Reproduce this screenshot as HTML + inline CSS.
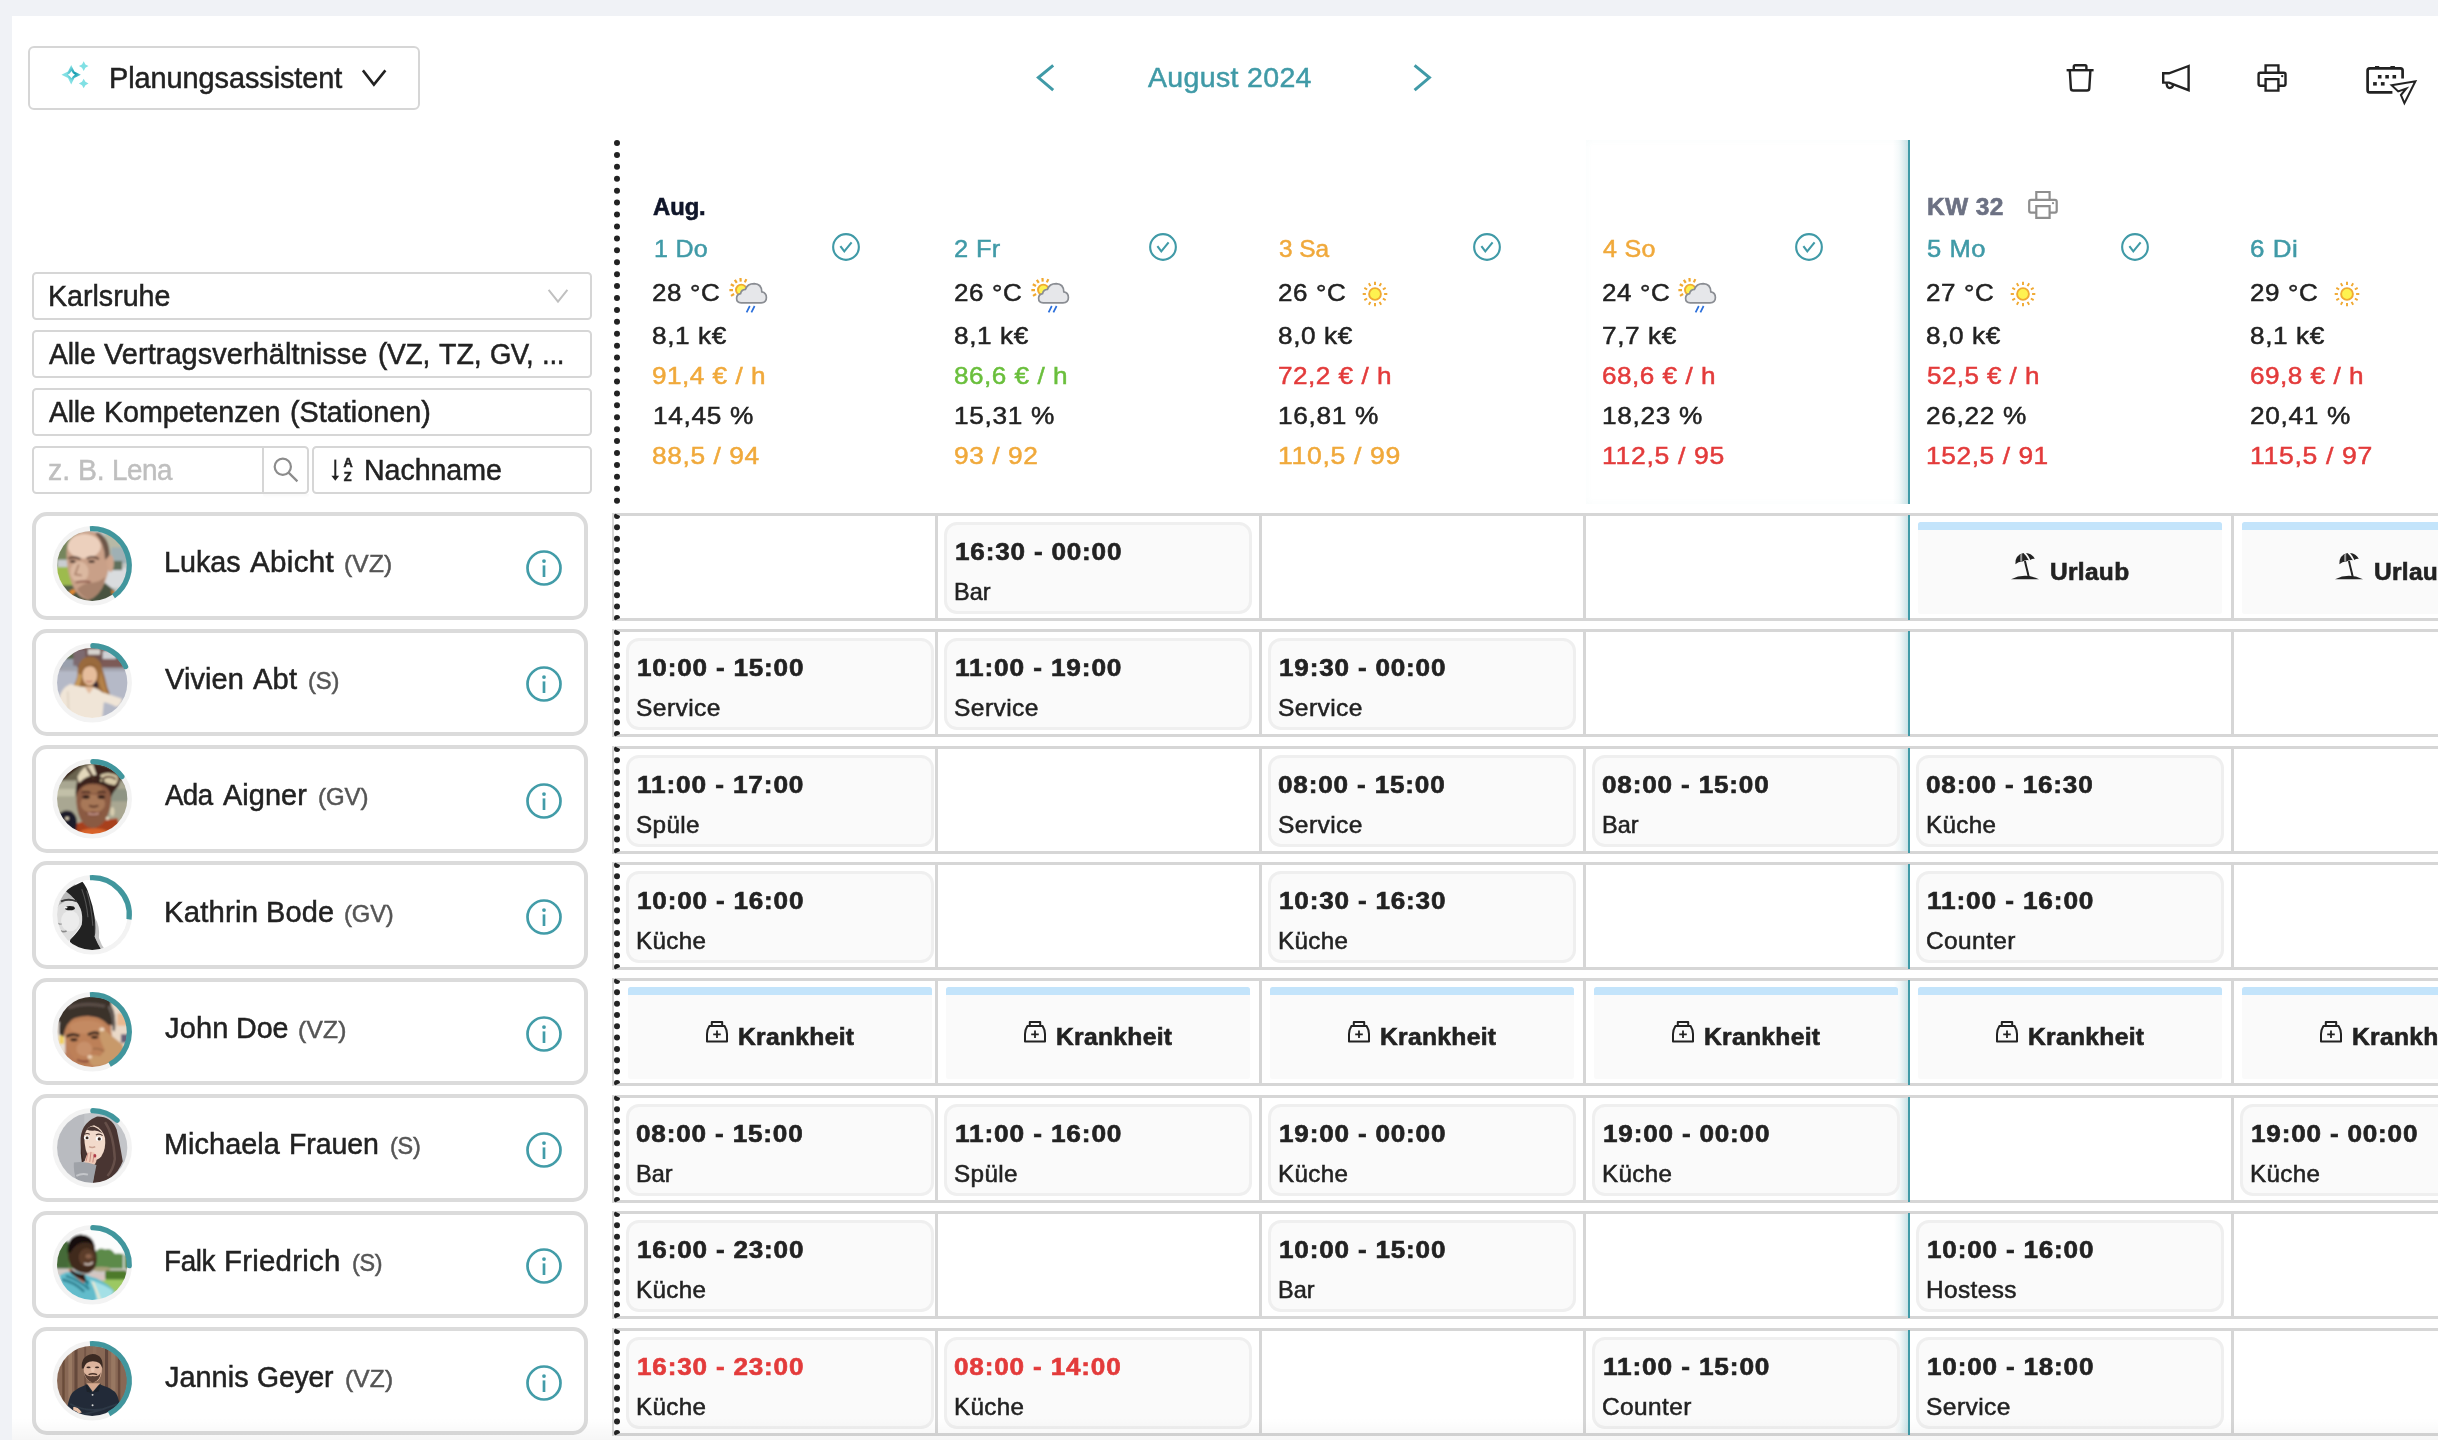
<!DOCTYPE html>
<html lang="de"><head><meta charset="utf-8"><title>Dienstplan</title>
<style>
html,body{margin:0;padding:0;overflow:hidden;}
body{width:2438px;height:1440px;overflow:hidden;background:#f0f2f6;font-family:"Liberation Sans",sans-serif;position:relative;}
.b{position:absolute;box-sizing:border-box;display:block;}
.t{position:absolute;white-space:nowrap;font-family:"Liberation Sans",sans-serif;}
#w{position:absolute;left:0;top:0;width:2438px;height:1440px;overflow:hidden;will-change:transform;}
#panel{position:absolute;left:12px;top:16px;width:2426px;height:1424px;background:#fff;}
</style></head><body>
<div id="w">
<div id="panel"></div>
<div class="b" style="left:28.00px;top:46.00px;width:392.00px;height:64.00px;border:2px solid #d6d6d6;border-radius:6px;background:#fff;"></div>
<svg class="b" style="left:58.00px;top:60.00px;" width="32.00" height="30.00" viewBox="58 60 32 30"><defs><radialGradient id="spg" gradientUnits="userSpaceOnUse" cx="74.6" cy="73.4" r="8"><stop offset="0" stop-color="#0f9aae"/><stop offset="0.45" stop-color="#3db4c2"/><stop offset="1" stop-color="#82e0e4"/></radialGradient></defs><path d="M71.20,65.00 L74.42,71.48 L80.90,74.70 L74.42,77.92 L71.20,84.40 L67.98,77.92 L61.50,74.70 L67.98,71.48Z" fill="url(#spg)"/><path d="M71.40,71.10 L72.93,73.17 L75.00,74.70 L72.93,76.23 L71.40,78.30 L69.87,76.23 L67.80,74.70 L69.87,73.17Z" fill="#fff"/><path d="M83.70,61.30 L85.40,64.40 L88.50,66.10 L85.40,67.80 L83.70,70.90 L82.00,67.80 L78.90,66.10 L82.00,64.40Z" fill="#80e0e4"/><path d="M83.70,78.70 L85.40,81.80 L88.50,83.50 L85.40,85.20 L83.70,88.30 L82.00,85.20 L78.90,83.50 L82.00,81.80Z" fill="#80e0e4"/></svg>
<div class="t" style="left:109.46px;top:63.55px;font-size:29.0px;line-height:29.0px;color:#222;font-weight:400;letter-spacing:-0.051px;transform:scaleX(0.9948);transform-origin:0 0;-webkit-text-stroke:0.5px #222;">Planungsassistent</div>
<svg class="b" style="left:358.00px;top:66.00px;" width="32.00" height="24.00" viewBox="358 66 32 24"><path d="M362.9 70.4 L373.9 84.6 L385.4 70.4" fill="none" stroke="#222" stroke-width="2.6"/></svg>
<svg class="b" style="left:1030.00px;top:60.00px;" width="30.00" height="36.00" viewBox="1030 60 30 36"><path d="M1053.2 65.4 L1038.4 77.6 L1053.2 90.2" fill="none" stroke="#409aa7" stroke-width="3"/></svg>
<div class="t" style="left:1148.25px;top:64.04px;font-size:27.6px;line-height:27.6px;color:#409aa7;font-weight:400;letter-spacing:0.329px;transform:scaleX(1.0329);transform-origin:0 0;-webkit-text-stroke:0.5px #409aa7;">August 2024</div>
<svg class="b" style="left:1408.00px;top:60.00px;" width="30.00" height="36.00" viewBox="1408 60 30 36"><path d="M1414.6 65.4 L1429.4 77.6 L1414.6 90.2" fill="none" stroke="#409aa7" stroke-width="3"/></svg>
<svg class="b" style="left:2060.00px;top:58.00px;" width="40.00" height="40.00" viewBox="2060 58 40 40"><g fill="none" stroke="#222" stroke-width="2.4" stroke-linejoin="round"><path d="M2066.6 70.2 H2093.6"/><path d="M2073.8 70 V66.6 Q2073.8 65.3 2075.1 65.3 H2085.1 Q2086.4 65.3 2086.4 66.6 V70"/><path d="M2069.8 70.4 L2070.9 88.4 Q2071 90.5 2073.2 90.5 H2087 Q2089.2 90.5 2089.3 88.4 L2090.4 70.4"/></g></svg>
<svg class="b" style="left:2155.00px;top:58.00px;" width="42.00" height="40.00" viewBox="2155 58 42 40"><g fill="none" stroke="#222" stroke-width="2.4" stroke-linejoin="miter"><path d="M2188.6 66.0 L2169 73.3 H2163.2 V82.6 H2169 L2188.6 90.2 Z"/><path d="M2166.6 83.2 Q2166.9 88 2169.8 88 Q2172.6 88 2173.2 84.6"/></g></svg>
<svg class="b" style="left:2250.00px;top:58.00px;" width="44.00" height="40.00" viewBox="2250 58 44 40"><g fill="none" stroke="#222" stroke-width="2.4" stroke-linejoin="round"><path d="M2265.6 72 V65.4 H2278.4 V72" stroke-linejoin="miter"/><path d="M2265.6 85.7 H2260.2 Q2258.6 85.7 2258.6 84.1 V74.4 Q2258.6 72.8 2260.2 72.8 H2283.9 Q2285.5 72.8 2285.5 74.4 V84.1 Q2285.5 85.7 2283.9 85.7 H2278.4"/><path d="M2265.6 79.1 H2278.4 V90.6 H2265.6 Z" stroke-linejoin="miter"/></g><circle cx="2282.2" cy="76.1" r="1.2" fill="#222"/></svg>
<svg class="b" style="left:2360.00px;top:60.00px;" width="64.00" height="50.00" viewBox="2360 60 64 50"><g fill="none" stroke="#222" stroke-width="2.7"><path d="M2402.6 78.4 V70.6 Q2402.6 68.4 2400.4 68.4 H2369.8 Q2367.6 68.4 2367.6 70.6 V90.2 Q2367.6 92.4 2369.8 92.4 H2392.4"/></g><g fill="#222"><rect x="2375" y="66" width="4.2" height="2"/><rect x="2390.4" y="66" width="4.5" height="2"/><rect x="2377.9" y="75" width="3.6" height="3.5"/><rect x="2385.3" y="75" width="3.6" height="3.5"/><rect x="2392.5" y="75" width="3.6" height="3.5"/><rect x="2373.1" y="82.1" width="3.7" height="3.5"/><rect x="2380.9" y="82.1" width="3.7" height="3.5"/></g><path d="M2391.6 85.2 L2415.4 81.2 L2404.4 103.2 L2400.9 95 L2406.2 88.6 L2398.2 91.4 Z" fill="none" stroke="#222" stroke-width="2" stroke-linejoin="miter"/></svg>
<div class="b" style="left:32.00px;top:272.00px;width:560.00px;height:48.00px;border:2px solid #d6d6d6;border-radius:4.5px;background:#fff;"></div>
<div class="b" style="left:32.00px;top:330.00px;width:560.00px;height:48.00px;border:2px solid #d6d6d6;border-radius:4.5px;background:#fff;"></div>
<div class="b" style="left:32.00px;top:388.00px;width:560.00px;height:48.00px;border:2px solid #d6d6d6;border-radius:4.5px;background:#fff;"></div>
<div class="b" style="left:32.00px;top:446.00px;width:277.00px;height:48.00px;border:2px solid #d6d6d6;border-radius:4.5px;background:#fff;"></div>
<div class="b" style="left:261.60px;top:447.00px;width:2.00px;height:46.00px;background:#d6d6d6;"></div>
<div class="b" style="left:312.00px;top:446.00px;width:280.00px;height:48.00px;border:2px solid #d6d6d6;border-radius:4.5px;background:#fff;"></div>
<div class="t" style="left:48.05px;top:282.21px;font-size:28.7px;line-height:28.7px;color:#222;font-weight:400;letter-spacing:-0.016px;transform:scaleX(0.9984);transform-origin:0 0;-webkit-text-stroke:0.5px #222;">Karlsruhe</div>
<div class="t" style="left:48.85px;top:340.31px;font-size:28.7px;line-height:28.7px;color:#222;font-weight:400;letter-spacing:-0.146px;transform:scaleX(0.9862);transform-origin:0 0;-webkit-text-stroke:0.5px #222;">Alle</div>
<div class="t" style="left:104.35px;top:340.31px;font-size:28.7px;line-height:28.7px;color:#222;font-weight:400;letter-spacing:0.074px;transform:scaleX(1.0082);transform-origin:0 0;-webkit-text-stroke:0.5px #222;">Vertragsverhältnisse</div>
<div class="t" style="left:377.87px;top:340.31px;font-size:28.7px;line-height:28.7px;color:#222;font-weight:400;letter-spacing:-0.247px;transform:scaleX(0.9788);transform-origin:0 0;-webkit-text-stroke:0.5px #222;">(VZ,</div>
<div class="t" style="left:439.15px;top:340.31px;font-size:28.7px;line-height:28.7px;color:#222;font-weight:400;letter-spacing:-0.05px;transform:scaleX(0.9964);transform-origin:0 0;-webkit-text-stroke:0.5px #222;">TZ,</div>
<div class="t" style="left:490.39px;top:340.31px;font-size:28.7px;line-height:28.7px;color:#222;font-weight:400;letter-spacing:-0.607px;transform:scaleX(0.9601);transform-origin:0 0;-webkit-text-stroke:0.5px #222;">GV,</div>
<div class="t" style="left:541.72px;top:340.31px;font-size:28.7px;line-height:28.7px;color:#222;font-weight:400;letter-spacing:-0.258px;transform:scaleX(0.9627);transform-origin:0 0;-webkit-text-stroke:0.5px #222;">...</div>
<div class="t" style="left:48.75px;top:398.21px;font-size:28.7px;line-height:28.7px;color:#222;font-weight:400;letter-spacing:-0.174px;transform:scaleX(0.9836);transform-origin:0 0;-webkit-text-stroke:0.5px #222;">Alle</div>
<div class="t" style="left:103.55px;top:398.21px;font-size:28.7px;line-height:28.7px;color:#222;font-weight:400;letter-spacing:-0.027px;transform:scaleX(0.9977);transform-origin:0 0;-webkit-text-stroke:0.5px #222;">Kompetenzen</div>
<div class="t" style="left:290.25px;top:398.21px;font-size:28.7px;line-height:28.7px;color:#222;font-weight:400;letter-spacing:0.017px;transform:scaleX(1.0019);transform-origin:0 0;-webkit-text-stroke:0.5px #222;">(Stationen)</div>
<div class="t" style="left:48.16px;top:456.11px;font-size:28.7px;line-height:28.7px;color:#bfbfbf;font-weight:400;letter-spacing:-0.098px;transform:scaleX(0.9924);transform-origin:0 0;-webkit-text-stroke:0.5px #bfbfbf;">z.</div>
<div class="t" style="left:77.67px;top:456.11px;font-size:28.7px;line-height:28.7px;color:#bfbfbf;font-weight:400;letter-spacing:-0.176px;transform:scaleX(0.9887);transform-origin:0 0;-webkit-text-stroke:0.5px #bfbfbf;">B.</div>
<div class="t" style="left:112.11px;top:456.11px;font-size:28.7px;line-height:28.7px;color:#bfbfbf;font-weight:400;letter-spacing:-0.449px;transform:scaleX(0.9683);transform-origin:0 0;-webkit-text-stroke:0.5px #bfbfbf;">Lena</div>
<div class="t" style="left:363.56px;top:456.11px;font-size:28.7px;line-height:28.7px;color:#222;font-weight:400;letter-spacing:-0.05px;transform:scaleX(0.9961);transform-origin:0 0;-webkit-text-stroke:0.5px #222;">Nachname</div>
<div class="b" style="left:263.00px;top:494.00px;width:46.00px;height:4.00px;background:linear-gradient(to bottom, rgba(0,0,0,0.025), rgba(0,0,0,0));border-radius:0 0 4px 4px;"></div>
<svg class="b" style="left:540.00px;top:284.00px;" width="36.00" height="24.00" viewBox="540 284 36 24"><path d="M548.6 289.9 L558 301.6 L567.4 289.9" fill="none" stroke="#c0c0c0" stroke-width="2"/></svg>
<svg class="b" style="left:268.00px;top:452.00px;" width="36.00" height="36.00" viewBox="268 452 36 36"><g fill="none" stroke="#8c8c8c" stroke-width="2.2"><circle cx="282.8" cy="466.8" r="8.1"/><path d="M288.6 472.6 L297.4 481.4"/></g></svg>
<svg class="b" style="left:326.00px;top:454.00px;" width="32.00" height="32.00" viewBox="326 454 32 32"><path d="M335.3 459.6 V478" fill="none" stroke="#222" stroke-width="2"/><path d="M331.4 475.8 H339.2 L335.3 480.8 Z" fill="#222"/></svg>
<div class="t" style="left:343.40px;top:457.06px;font-size:12.8px;line-height:12.8px;color:#222;font-weight:700;letter-spacing:0px;-webkit-text-stroke:0.5px #222;">A</div>
<div class="t" style="left:343.80px;top:470.76px;font-size:12.8px;line-height:12.8px;color:#222;font-weight:700;letter-spacing:0px;-webkit-text-stroke:0.5px #222;">Z</div>
<div class="b" style="left:32.00px;top:512.20px;width:556.00px;height:107.60px;border:4px solid #dbdbdb;border-radius:15px;background:#fff;"></div>
<svg class="b" style="left:50.00px;top:522.20px;" width="86.00" height="88.00" viewBox="50 522.20 86 88"><circle cx="92.2" cy="566.0" r="37.4" fill="none" stroke="#f3f3f3" stroke-width="4.7"/><clipPath id="av0"><circle cx="92.2" cy="566.0" r="35.15"/></clipPath><g clip-path="url(#av0)"><filter id="bl566" x="-10%" y="-10%" width="120%" height="120%"><feGaussianBlur stdDeviation="19"/></filter><g transform="translate(92.20 566.00) scale(0.06112) translate(-690 -720)"><g filter="url(#bl566)"><rect x="60" y="90" width="1260" height="1260" fill="#c4c8c4"/><rect x="60" y="90" width="420" height="640" fill="#75855c"/><rect x="120" y="620" width="200" height="120" fill="#c9cdd0"/><rect x="60" y="740" width="380" height="330" fill="#9dbb4e"/><rect x="60" y="1040" width="400" height="300" fill="#55604a"/><rect x="900" y="90" width="420" height="560" fill="#b7b9a6"/><rect x="1000" y="420" width="260" height="260" fill="#9fb0b4"/><path d="M900 760 Q1000 720 1260 760 L1260 1080 L900 1080 Z" fill="#d9dcde"/><rect x="980" y="640" width="200" height="150" fill="#5f6f5c"/><path d="M250 1340 L330 1130 L520 1100 L900 1000 L1060 1130 L1100 1340 Z" fill="#48523f"/><path d="M310 1140 L380 1100 L430 1140 L350 1200 Z" fill="#e58a2e"/><path d="M1000 1110 L1060 1150 L1020 1200 Z" fill="#e58a2e"/><path d="M270 520 Q270 170 620 150 Q930 160 970 520 Q990 760 900 980 Q800 1230 620 1280 Q450 1240 360 1020 Q270 800 270 520 Z" fill="#c9a088"/><ellipse cx="560" cy="400" rx="270" ry="200" fill="#ecd0bd"/><ellipse cx="480" cy="820" rx="150" ry="170" fill="#dbb8a0"/><path d="M780 170 Q980 260 975 560 L900 620 Q900 360 740 190 Z" fill="#6d5648"/><path d="M640 1000 Q820 1000 900 900 Q860 1180 640 1270 Q520 1240 440 1100 Q540 1010 640 1000 Z" fill="#a8826c"/><ellipse cx="990" cy="680" rx="55" ry="140" fill="#cfa58c"/><path d="M300 600 Q400 560 500 610" stroke="#5a3d30" stroke-width="34" fill="none"/><path d="M600 600 Q700 550 800 610" stroke="#5a3d30" stroke-width="34" fill="none"/><ellipse cx="370" cy="650" rx="50" ry="22" fill="#3a2a22"/><ellipse cx="680" cy="650" rx="55" ry="22" fill="#3a2a22"/><path d="M470 700 L410 860 L520 880" stroke="#a67c66" stroke-width="26" fill="none"/><path d="M420 990 Q540 960 660 985" stroke="#8a5548" stroke-width="30" fill="none"/></g></g></g><path d="M89.94 528.97 A37.1 37.1 0 0 1 113.48 596.39" fill="none" stroke="#41969d" stroke-width="5.2"/></svg>
<div class="t" style="left:163.55px;top:548.01px;font-size:28.7px;line-height:28.7px;color:#222;font-weight:400;letter-spacing:-0.001px;transform:scaleX(0.9999);transform-origin:0 0;-webkit-text-stroke:0.5px #222;">Lukas</div>
<div class="t" style="left:249.65px;top:548.01px;font-size:28.7px;line-height:28.7px;color:#222;font-weight:400;letter-spacing:0.314px;transform:scaleX(1.0304);transform-origin:0 0;-webkit-text-stroke:0.5px #222;">Abicht</div>
<div class="t" style="left:344.23px;top:551.98px;font-size:24.0px;line-height:24.0px;color:#555;font-weight:400;letter-spacing:0.201px;transform:scaleX(1.0207);transform-origin:0 0;-webkit-text-stroke:0.5px #555;">(VZ)</div>
<svg class="b" style="left:524.00px;top:547.90px;" width="40.00" height="40.00" viewBox="524 547.90 40 40"><circle cx="544" cy="567.9000000000001" r="16.5" fill="none" stroke="#429ca8" stroke-width="2.7"/><circle cx="544" cy="561.0000000000001" r="1.9" fill="#429ca8"/><path d="M544 565.3000000000001 V576.9000000000001" stroke="#429ca8" stroke-width="2.7" fill="none"/></svg>
<div class="b" style="left:32.00px;top:628.60px;width:556.00px;height:107.60px;border:4px solid #dbdbdb;border-radius:15px;background:#fff;"></div>
<svg class="b" style="left:50.00px;top:638.60px;" width="86.00" height="88.00" viewBox="50 638.60 86 88"><circle cx="92.2" cy="682.4" r="37.4" fill="none" stroke="#f3f3f3" stroke-width="4.7"/><clipPath id="av1"><circle cx="92.2" cy="682.4" r="35.15"/></clipPath><g clip-path="url(#av1)"><filter id="bl682" x="-10%" y="-10%" width="120%" height="120%"><feGaussianBlur stdDeviation="15"/></filter><g transform="translate(92.20 682.40) scale(0.06112) translate(-690 -720)"><g filter="url(#bl682)"><rect x="60" y="90" width="1260" height="1260" fill="#b5b9c7"/><rect x="60" y="90" width="1260" height="400" fill="#6f5350"/><rect x="60" y="90" width="330" height="330" fill="#58684a"/><rect x="180" y="330" width="260" height="170" fill="#9aa0ad"/><rect x="380" y="180" width="200" height="260" fill="#7d6a70"/><rect x="860" y="200" width="220" height="130" fill="#cfd0d4"/><rect x="620" y="170" width="200" height="90" fill="#d8d4d0"/><rect x="840" y="330" width="420" height="140" fill="#7c5a56"/><rect x="60" y="470" width="1260" height="60" fill="#a2a4ae"/><path d="M640 290 Q820 290 850 470 Q900 620 940 800 Q1010 940 960 1040 Q880 1010 830 880 Q760 780 640 800 Q520 800 440 900 Q360 900 300 880 Q420 760 450 600 Q440 320 640 290 Z" fill="#9a6a3c"/><path d="M470 560 Q430 760 330 870 L420 880 Q500 760 520 600 Z" fill="#c79a5a"/><path d="M830 520 Q900 760 960 1000 Q860 900 800 700 Z" fill="#b58248"/><path d="M700 640 Q800 700 790 800 L700 780 Z" fill="#2e2230"/><ellipse cx="650" cy="600" rx="120" ry="160" fill="#e6bd9c"/><path d="M520 520 Q620 330 800 480 Q700 440 640 450 Q570 460 520 520 Z" fill="#8f5f34"/><path d="M590 690 Q640 720 690 690" stroke="#b86a5a" stroke-width="22" fill="none"/><path d="M150 1000 Q160 820 330 740 Q480 800 620 790 Q760 800 860 880 Q1000 920 1180 980 Q1160 1100 1080 1110 Q960 1050 880 1040 L850 1340 L300 1340 Q250 1150 150 1000 Z" fill="#f0e5d7"/><path d="M560 780 L640 900 L720 790 Z" fill="#e3bb9c"/><path d="M290 860 L310 1300" stroke="#d9cdbb" stroke-width="20"/></g></g></g><path d="M92.85 645.31 A37.1 37.1 0 0 1 125.60 666.25" fill="none" stroke="#41969d" stroke-width="5.2" stroke-linecap="round"/></svg>
<div class="t" style="left:164.65px;top:665.01px;font-size:28.7px;line-height:28.7px;color:#222;font-weight:400;letter-spacing:0.098px;transform:scaleX(1.0097);transform-origin:0 0;-webkit-text-stroke:0.5px #222;">Vivien</div>
<div class="t" style="left:252.85px;top:665.01px;font-size:28.7px;line-height:28.7px;color:#222;font-weight:400;letter-spacing:0.199px;transform:scaleX(1.0141);transform-origin:0 0;-webkit-text-stroke:0.5px #222;">Abt</div>
<div class="t" style="left:308.16px;top:668.98px;font-size:24.0px;line-height:24.0px;color:#555;font-weight:400;letter-spacing:-0.101px;transform:scaleX(0.9900);transform-origin:0 0;-webkit-text-stroke:0.5px #555;">(S)</div>
<svg class="b" style="left:524.00px;top:664.30px;" width="40.00" height="40.00" viewBox="524 664.30 40 40"><circle cx="544" cy="684.3000000000001" r="16.5" fill="none" stroke="#429ca8" stroke-width="2.7"/><circle cx="544" cy="677.4000000000001" r="1.9" fill="#429ca8"/><path d="M544 681.7 V693.3000000000001" stroke="#429ca8" stroke-width="2.7" fill="none"/></svg>
<div class="b" style="left:32.00px;top:745.00px;width:556.00px;height:107.60px;border:4px solid #dbdbdb;border-radius:15px;background:#fff;"></div>
<svg class="b" style="left:50.00px;top:755.00px;" width="86.00" height="88.00" viewBox="50 755.00 86 88"><circle cx="92.2" cy="798.8" r="37.4" fill="none" stroke="#f3f3f3" stroke-width="4.7"/><clipPath id="av2"><circle cx="92.2" cy="798.8" r="35.15"/></clipPath><g clip-path="url(#av2)"><filter id="bl798" x="-10%" y="-10%" width="120%" height="120%"><feGaussianBlur stdDeviation="16"/></filter><g transform="translate(92.20 798.80) scale(0.06112) translate(-690 -720)"><g filter="url(#bl798)"><rect x="60" y="90" width="1260" height="1260" fill="#a9a792"/><rect x="60" y="90" width="1260" height="330" fill="#6a6450"/><path d="M60 90 L620 90 L200 420 L60 500 Z" fill="#2e1610"/><path d="M1320 90 L900 90 L1250 500 L1320 520 Z" fill="#3a2018"/><rect x="60" y="560" width="380" height="120" fill="#c2c0a8"/><rect x="1000" y="560" width="320" height="200" fill="#8e9484"/><path d="M380 1340 L420 1130 Q560 1060 700 1100 Q900 1060 1100 1040 L1180 1340 Z" fill="#a8401e"/><ellipse cx="720" cy="1290" rx="240" ry="90" fill="#d8642a"/><path d="M120 1000 Q200 880 340 920 Q440 980 440 1100 L420 1340 L120 1340 Z" fill="#1f1a2c"/><circle cx="280" cy="1040" r="28" fill="#e8dcc0"/><path d="M430 640 Q440 380 700 380 Q980 380 1000 640 Q1010 900 900 1080 Q800 1200 700 1200 Q580 1200 500 1060 Q420 900 430 640 Z" fill="#8a5a42"/><ellipse cx="700" cy="800" rx="200" ry="150" fill="#a87858"/><ellipse cx="690" cy="560" rx="170" ry="70" fill="#9a6a4c"/><path d="M420 700 Q400 330 620 150 Q900 120 1130 330 Q1180 450 1080 560 Q1010 640 1000 700 Q980 480 700 470 Q470 480 420 700 Z" fill="#3a241c"/><path d="M450 360 Q540 170 700 150 L760 330 Q600 330 470 460 Z" fill="#e4d8bc"/><path d="M600 200 L720 400" stroke="#4a3024" stroke-width="40"/><path d="M820 330 Q960 260 1100 340 Q1140 420 1060 500 Q940 480 840 420 Z" fill="#d8caa8"/><path d="M880 380 Q980 330 1080 400" stroke="#5a3a2a" stroke-width="34" fill="none"/><circle cx="840" cy="420" r="48" fill="#2a1a16"/><circle cx="840" cy="420" r="22" fill="#c8b894"/><ellipse cx="590" cy="690" rx="62" ry="30" fill="#2a1814"/><ellipse cx="840" cy="690" rx="62" ry="30" fill="#2a1814"/><path d="M520 620 Q590 590 660 620 M780 620 Q850 590 910 620" stroke="#3a2018" stroke-width="22" fill="none"/><path d="M640 830 Q710 870 790 830" stroke="#5a3426" stroke-width="30" fill="none"/><path d="M590 960 Q700 900 830 960 Q710 1040 590 960 Z" fill="#6e3a34"/><path d="M620 960 Q710 990 800 960" stroke="#c89a8a" stroke-width="30" fill="none"/><ellipse cx="1020" cy="930" rx="34" ry="70" fill="#d8ceb0"/><circle cx="940" cy="1040" r="26" fill="#e8e0c8"/></g></g></g><path d="M92.85 761.71 A37.1 37.1 0 0 1 121.91 776.58" fill="none" stroke="#41969d" stroke-width="5.2" stroke-linecap="round"/></svg>
<div class="t" style="left:164.65px;top:781.01px;font-size:28.7px;line-height:28.7px;color:#222;font-weight:400;letter-spacing:-0.62px;transform:scaleX(0.9649);transform-origin:0 0;-webkit-text-stroke:0.5px #222;">Ada</div>
<div class="t" style="left:223.25px;top:781.01px;font-size:28.7px;line-height:28.7px;color:#222;font-weight:400;letter-spacing:0.074px;transform:scaleX(1.0067);transform-origin:0 0;-webkit-text-stroke:0.5px #222;">Aigner</div>
<div class="t" style="left:318.15px;top:784.98px;font-size:24.0px;line-height:24.0px;color:#555;font-weight:400;letter-spacing:-0.036px;transform:scaleX(0.9967);transform-origin:0 0;-webkit-text-stroke:0.5px #555;">(GV)</div>
<svg class="b" style="left:524.00px;top:780.70px;" width="40.00" height="40.00" viewBox="524 780.70 40 40"><circle cx="544" cy="800.7" r="16.5" fill="none" stroke="#429ca8" stroke-width="2.7"/><circle cx="544" cy="793.8000000000001" r="1.9" fill="#429ca8"/><path d="M544 798.1 V809.7" stroke="#429ca8" stroke-width="2.7" fill="none"/></svg>
<div class="b" style="left:32.00px;top:861.40px;width:556.00px;height:107.60px;border:4px solid #dbdbdb;border-radius:15px;background:#fff;"></div>
<svg class="b" style="left:50.00px;top:871.40px;" width="86.00" height="88.00" viewBox="50 871.40 86 88"><circle cx="92.2" cy="915.2" r="37.4" fill="none" stroke="#f3f3f3" stroke-width="4.7"/><clipPath id="av3"><circle cx="92.2" cy="915.2" r="35.15"/></clipPath><g clip-path="url(#av3)"><filter id="bl915" x="-10%" y="-10%" width="120%" height="120%"><feGaussianBlur stdDeviation="13"/></filter><g transform="translate(92.20 915.20) scale(0.06112) translate(-690 -720)"><g filter="url(#bl915)"><rect x="60" y="90" width="1260" height="1260" fill="#ffffff"/><path d="M60 300 L420 250 L560 640 Q560 800 520 880 L330 1130 L200 1340 L60 1340 Z" fill="#dedede"/><ellipse cx="330" cy="820" rx="150" ry="170" fill="#ececec"/><path d="M60 300 L400 200 L520 420 L300 470 L150 560 L60 700 Z" fill="#b9b9b9"/><path d="M240 320 L530 180 Q600 260 640 400 Q700 560 730 760 Q760 960 730 1080 Q780 1200 840 1290 L560 1340 L300 1340 L330 1130 Q480 980 520 880 Q540 720 500 620 Q440 470 240 320 Z" fill="#222222"/><path d="M520 300 Q600 520 620 760 M600 330 Q680 600 700 900" stroke="#555" stroke-width="18" fill="none"/><path d="M730 760 Q820 900 800 1100 Q840 1220 900 1290 L840 1290 Q780 1200 730 1080 Z" fill="#8a8a8a" opacity="0.5"/><path d="M180 500 Q300 450 440 500" stroke="#3a3a3a" stroke-width="34" fill="none"/><ellipse cx="325" cy="612" rx="80" ry="34" fill="#1c1c1c"/><ellipse cx="260" cy="600" rx="26" ry="16" fill="#f4f4f4"/><path d="M130 860 Q160 880 190 870" stroke="#9a9a9a" stroke-width="22" fill="none"/><path d="M170 980 Q220 1010 270 985" stroke="#8a8a8a" stroke-width="30" fill="none"/></g></g></g><path d="M89.94 878.17 A37.1 37.1 0 0 1 129.02 919.72" fill="none" stroke="#41969d" stroke-width="5.2"/></svg>
<div class="t" style="left:163.81px;top:898.01px;font-size:28.7px;line-height:28.7px;color:#222;font-weight:400;letter-spacing:0.193px;transform:scaleX(1.0202);transform-origin:0 0;-webkit-text-stroke:0.5px #222;">Kathrin</div>
<div class="t" style="left:266.03px;top:898.01px;font-size:28.7px;line-height:28.7px;color:#222;font-weight:400;letter-spacing:0.126px;transform:scaleX(1.0090);transform-origin:0 0;-webkit-text-stroke:0.5px #222;">Bode</div>
<div class="t" style="left:344.26px;top:901.98px;font-size:24.0px;line-height:24.0px;color:#555;font-weight:400;letter-spacing:-0.117px;transform:scaleX(0.9893);transform-origin:0 0;-webkit-text-stroke:0.5px #555;">(GV)</div>
<svg class="b" style="left:524.00px;top:897.10px;" width="40.00" height="40.00" viewBox="524 897.10 40 40"><circle cx="544" cy="917.1000000000001" r="16.5" fill="none" stroke="#429ca8" stroke-width="2.7"/><circle cx="544" cy="910.2000000000002" r="1.9" fill="#429ca8"/><path d="M544 914.5000000000001 V926.1000000000001" stroke="#429ca8" stroke-width="2.7" fill="none"/></svg>
<div class="b" style="left:32.00px;top:977.80px;width:556.00px;height:107.60px;border:4px solid #dbdbdb;border-radius:15px;background:#fff;"></div>
<svg class="b" style="left:50.00px;top:987.80px;" width="86.00" height="88.00" viewBox="50 987.80 86 88"><circle cx="92.2" cy="1031.6000000000001" r="37.4" fill="none" stroke="#f3f3f3" stroke-width="4.7"/><clipPath id="av4"><circle cx="92.2" cy="1031.6000000000001" r="35.15"/></clipPath><g clip-path="url(#av4)"><filter id="bl1031" x="-10%" y="-10%" width="120%" height="120%"><feGaussianBlur stdDeviation="19"/></filter><g transform="translate(92.20 1031.60) scale(0.06112) translate(-690 -720)"><g filter="url(#bl1031)"><rect x="60" y="90" width="1260" height="1260" fill="#b97c58"/><rect x="60" y="90" width="1260" height="520" fill="#3a302c"/><rect x="1000" y="90" width="320" height="900" fill="#ead9c8"/><rect x="1100" y="420" width="160" height="200" fill="#e8b890"/><rect x="1160" y="760" width="160" height="140" fill="#6a6078"/><rect x="60" y="560" width="190" height="520" fill="#e8e0d8"/><rect x="150" y="780" width="80" height="140" fill="#f0d060"/><path d="M220 700 Q260 470 620 460 Q960 480 1010 760 Q1000 1060 860 1220 Q700 1330 520 1270 Q300 1160 220 700 Z" fill="#bd8058"/><ellipse cx="600" cy="640" rx="280" ry="110" fill="#c48a62"/><ellipse cx="560" cy="1000" rx="130" ry="120" fill="#c8906a"/><path d="M150 760 Q120 330 420 180 Q700 100 960 230 Q1100 400 1060 720 Q1000 540 860 470 Q620 420 420 480 Q250 560 220 800 Z" fill="#3b302b"/><path d="M300 330 Q560 230 900 300" stroke="#5a4d46" stroke-width="50" fill="none"/><path d="M960 300 Q1060 480 1040 700" stroke="#6a625c" stroke-width="40" fill="none"/><path d="M270 800 Q360 740 480 790" stroke="#2e221c" stroke-width="44" fill="none"/><path d="M620 770 Q720 700 830 760" stroke="#2e221c" stroke-width="44" fill="none"/><ellipse cx="390" cy="850" rx="60" ry="24" fill="#2a1c16"/><ellipse cx="730" cy="810" rx="60" ry="24" fill="#2a1c16"/><path d="M440 1180 Q560 1230 660 1190" stroke="#8a4a3a" stroke-width="34" fill="none"/><path d="M800 680 Q860 640 900 700 L1200 940 Q1180 1100 1040 1200 Q900 1300 700 1280 Q600 1180 640 1120 Q700 1090 820 1120 L900 1020 Q800 860 800 680 Z" fill="#c8996a"/><ellipse cx="850" cy="680" rx="40" ry="30" fill="#f0d8c0"/><ellipse cx="650" cy="1130" rx="40" ry="30" fill="#ecd0b4"/><path d="M700 1000 Q800 980 880 1040" stroke="#9a6a48" stroke-width="24" fill="none"/></g></g></g><path d="M89.94 994.57 A37.1 37.1 0 0 1 109.62 1064.36" fill="none" stroke="#41969d" stroke-width="5.2"/></svg>
<div class="t" style="left:164.65px;top:1014.21px;font-size:28.7px;line-height:28.7px;color:#222;font-weight:400;letter-spacing:0.151px;transform:scaleX(1.0112);transform-origin:0 0;-webkit-text-stroke:0.5px #222;">John</div>
<div class="t" style="left:235.75px;top:1014.21px;font-size:28.7px;line-height:28.7px;color:#222;font-weight:400;letter-spacing:-0.034px;transform:scaleX(0.9979);transform-origin:0 0;-webkit-text-stroke:0.5px #222;">Doe</div>
<div class="t" style="left:298.03px;top:1018.18px;font-size:24.0px;line-height:24.0px;color:#555;font-weight:400;letter-spacing:0.214px;transform:scaleX(1.0220);transform-origin:0 0;-webkit-text-stroke:0.5px #555;">(VZ)</div>
<svg class="b" style="left:524.00px;top:1013.50px;" width="40.00" height="40.00" viewBox="524 1013.50 40 40"><circle cx="544" cy="1033.5" r="16.5" fill="none" stroke="#429ca8" stroke-width="2.7"/><circle cx="544" cy="1026.6" r="1.9" fill="#429ca8"/><path d="M544 1030.9 V1042.5" stroke="#429ca8" stroke-width="2.7" fill="none"/></svg>
<div class="b" style="left:32.00px;top:1094.20px;width:556.00px;height:107.60px;border:4px solid #dbdbdb;border-radius:15px;background:#fff;"></div>
<svg class="b" style="left:50.00px;top:1104.20px;" width="86.00" height="88.00" viewBox="50 1104.20 86 88"><circle cx="92.2" cy="1148.0" r="37.4" fill="none" stroke="#f3f3f3" stroke-width="4.7"/><clipPath id="av5"><circle cx="92.2" cy="1148.0" r="35.15"/></clipPath><g clip-path="url(#av5)"><filter id="bl1148" x="-10%" y="-10%" width="120%" height="120%"><feGaussianBlur stdDeviation="13"/></filter><g transform="translate(92.20 1148.00) scale(0.06112) translate(-690 -720)"><g filter="url(#bl1148)"><rect x="60" y="90" width="1260" height="1260" fill="#c3c5c9"/><rect x="60" y="90" width="500" height="1260" fill="#b9bbc0"/><path d="M500 640 Q480 330 760 210 Q1000 200 1090 420 Q1140 640 1190 940 Q1120 1120 1000 1200 Q900 1290 700 1300 L740 1000 Q560 960 520 900 Q500 780 500 640 Z" fill="#4a3631"/><path d="M900 300 Q1040 500 1060 900 Q1040 1060 940 1180" stroke="#66504a" stroke-width="40" fill="none"/><path d="M510 660 Q520 860 560 940 L520 960 Q490 800 510 660 Z" fill="#3a2824"/><path d="M560 520 Q600 360 720 350 Q860 400 900 560 Q920 740 840 860 Q760 960 660 900 Q560 800 560 520 Z" fill="#f2dacb"/><path d="M600 420 Q700 300 860 480 Q760 420 700 440 Q640 440 600 420 Z" fill="#4a3631"/><ellipse cx="600" cy="555" rx="46" ry="34" fill="#fff"/><ellipse cx="800" cy="570" rx="52" ry="36" fill="#fff"/><circle cx="606" cy="558" r="24" fill="#3a2a22"/><circle cx="806" cy="574" r="26" fill="#3a2a22"/><path d="M560 500 Q610 470 650 500 M750 510 Q810 480 860 520" stroke="#4a3631" stroke-width="18" fill="none"/><path d="M640 700 Q690 730 740 700" stroke="#c9a090" stroke-width="22" fill="none"/><path d="M560 960 Q600 800 660 780 Q760 790 760 880 Q770 960 720 1000 L580 1000 Z" fill="#efc9b6"/><path d="M620 800 L590 940 M670 790 L650 950 M720 820 L700 960" stroke="#c88a80" stroke-width="16"/><ellipse cx="735" cy="850" rx="22" ry="30" fill="#b03a4a"/><path d="M390 960 Q560 930 760 1000 L700 1290 L440 1300 Q380 1100 390 960 Z" fill="#9fa2a8"/><path d="M430 1180 Q520 1130 620 1160" stroke="#c4c6ca" stroke-width="30" fill="none"/></g></g></g><path d="M92.85 1110.91 A37.1 37.1 0 0 1 117.12 1120.52" fill="none" stroke="#41969d" stroke-width="5.2" stroke-linecap="round"/></svg>
<div class="t" style="left:163.84px;top:1129.91px;font-size:28.7px;line-height:28.7px;color:#222;font-weight:400;letter-spacing:0.06px;transform:scaleX(1.0056);transform-origin:0 0;-webkit-text-stroke:0.5px #222;">Michaela</div>
<div class="t" style="left:288.86px;top:1129.91px;font-size:28.7px;line-height:28.7px;color:#222;font-weight:400;letter-spacing:-0.076px;transform:scaleX(0.9936);transform-origin:0 0;-webkit-text-stroke:0.5px #222;">Frauen</div>
<div class="t" style="left:389.87px;top:1133.88px;font-size:24.0px;line-height:24.0px;color:#555;font-weight:400;letter-spacing:-0.225px;transform:scaleX(0.9780);transform-origin:0 0;-webkit-text-stroke:0.5px #555;">(S)</div>
<svg class="b" style="left:524.00px;top:1129.90px;" width="40.00" height="40.00" viewBox="524 1129.90 40 40"><circle cx="544" cy="1149.9" r="16.5" fill="none" stroke="#429ca8" stroke-width="2.7"/><circle cx="544" cy="1143.0" r="1.9" fill="#429ca8"/><path d="M544 1147.3000000000002 V1158.9" stroke="#429ca8" stroke-width="2.7" fill="none"/></svg>
<div class="b" style="left:32.00px;top:1210.60px;width:556.00px;height:107.60px;border:4px solid #dbdbdb;border-radius:15px;background:#fff;"></div>
<svg class="b" style="left:50.00px;top:1220.60px;" width="86.00" height="88.00" viewBox="50 1220.60 86 88"><circle cx="92.2" cy="1264.4" r="37.4" fill="none" stroke="#f3f3f3" stroke-width="4.7"/><clipPath id="av6"><circle cx="92.2" cy="1264.4" r="35.15"/></clipPath><g clip-path="url(#av6)"><filter id="bl1264" x="-10%" y="-10%" width="120%" height="120%"><feGaussianBlur stdDeviation="14"/></filter><g transform="translate(92.20 1264.40) scale(0.06112) translate(-690 -720)"><g filter="url(#bl1264)"><rect x="60" y="90" width="1260" height="1260" fill="#fbfcfc"/><rect x="60" y="560" width="1260" height="300" fill="#4f7a3e"/><path d="M740 520 Q800 420 900 470 Q1000 440 1060 540 Q1160 520 1260 560 L1260 800 L740 800 Z" fill="#5b8a48"/><path d="M60 330 L300 330 L300 860 L60 860 Z" fill="#456a38"/><rect x="1195" y="480" width="26" height="320" fill="#e2e2e2"/><rect x="60" y="780" width="1260" height="120" fill="#cfc8c4"/><ellipse cx="840" cy="790" rx="150" ry="40" fill="#a8a07a"/><rect x="900" y="815" width="360" height="160" rx="40" fill="#4d7a2c"/><rect x="640" y="960" width="680" height="380" fill="#9cc862"/><rect x="640" y="880" width="260" height="100" fill="#d8c4c0"/><path d="M150 900 Q260 820 420 830 Q620 900 760 940 Q960 1040 1050 1150 L960 1340 L300 1340 Q200 1100 150 900 Z" fill="#62bccb"/><path d="M640 960 Q900 1040 1040 1150 L960 1340 L760 1340 Q760 1100 640 960 Z" fill="#a4e0e6"/><path d="M200 960 Q400 1000 560 1160 M260 900 Q460 960 640 1120" stroke="#2e7f90" stroke-width="40" fill="none"/><path d="M500 960 Q580 1000 620 1080 L640 980 Z" fill="#1f7f90"/><path d="M700 1000 L820 1300" stroke="#f0ead0" stroke-width="34"/><path d="M310 800 Q420 920 560 1010" stroke="#d8603a" stroke-width="22" fill="none"/><path d="M290 520 Q280 240 500 230 Q720 240 740 470 Q790 620 740 760 Q660 880 560 860 Q420 840 340 740 Q290 640 290 520 Z" fill="#40291f"/><ellipse cx="600" cy="600" rx="130" ry="150" fill="#5c3c2c"/><ellipse cx="630" cy="580" rx="50" ry="36" fill="#8a624c"/><path d="M290 520 Q270 250 500 225 Q700 235 735 420 Q640 330 520 360 Q400 390 340 520 Z" fill="#16100e"/><path d="M560 700 Q640 740 700 680" stroke="#d8ccc4" stroke-width="26" fill="none"/><path d="M330 780 Q440 880 560 870 L600 1000 Q460 960 340 860 Z" fill="#2e1c16"/></g></g></g><path d="M92.85 1227.31 A37.1 37.1 0 0 1 129.29 1265.18" fill="none" stroke="#41969d" stroke-width="5.2" stroke-linecap="round"/></svg>
<div class="t" style="left:163.91px;top:1247.01px;font-size:28.7px;line-height:28.7px;color:#222;font-weight:400;letter-spacing:-0.365px;transform:scaleX(0.9699);transform-origin:0 0;-webkit-text-stroke:0.5px #222;">Falk</div>
<div class="t" style="left:224.20px;top:1247.01px;font-size:28.7px;line-height:28.7px;color:#222;font-weight:400;letter-spacing:0.228px;transform:scaleX(1.0258);transform-origin:0 0;-webkit-text-stroke:0.5px #222;">Friedrich</div>
<div class="t" style="left:351.58px;top:1250.98px;font-size:24.0px;line-height:24.0px;color:#555;font-weight:400;letter-spacing:-0.267px;transform:scaleX(0.9740);transform-origin:0 0;-webkit-text-stroke:0.5px #555;">(S)</div>
<svg class="b" style="left:524.00px;top:1246.30px;" width="40.00" height="40.00" viewBox="524 1246.30 40 40"><circle cx="544" cy="1266.3000000000002" r="16.5" fill="none" stroke="#429ca8" stroke-width="2.7"/><circle cx="544" cy="1259.4" r="1.9" fill="#429ca8"/><path d="M544 1263.7000000000003 V1275.3000000000002" stroke="#429ca8" stroke-width="2.7" fill="none"/></svg>
<div class="b" style="left:32.00px;top:1327.00px;width:556.00px;height:107.60px;border:4px solid #dbdbdb;border-radius:15px;background:#fff;"></div>
<svg class="b" style="left:50.00px;top:1337.00px;" width="86.00" height="88.00" viewBox="50 1337.00 86 88"><circle cx="92.2" cy="1380.8" r="37.4" fill="none" stroke="#f3f3f3" stroke-width="4.7"/><clipPath id="av7"><circle cx="92.2" cy="1380.8" r="35.15"/></clipPath><g clip-path="url(#av7)"><filter id="bl1380" x="-10%" y="-10%" width="120%" height="120%"><feGaussianBlur stdDeviation="12"/></filter><g transform="translate(92.20 1380.80) scale(0.06112) translate(-690 -720)"><g filter="url(#bl1380)"><rect x="60" y="90" width="1260" height="1260" fill="#886854"/><rect x="200" y="90" width="40" height="1260" fill="#6a4c3a"/><rect x="400" y="90" width="50" height="1260" fill="#65483a"/><rect x="560" y="90" width="30" height="1260" fill="#735444"/><rect x="900" y="90" width="50" height="1260" fill="#60443a"/><rect x="1110" y="90" width="40" height="1260" fill="#6a4c3e"/><rect x="300" y="90" width="60" height="1260" fill="#9a7a64"/><rect x="1000" y="90" width="70" height="1260" fill="#987862"/><rect x="700" y="90" width="60" height="1260" fill="#8e6e5a"/><path d="M270 1340 Q280 1000 380 900 Q480 820 600 780 L820 780 Q960 820 1060 900 Q1150 1000 1160 1340 Z" fill="#232c38"/><path d="M600 760 L700 900 L820 760 Z" fill="#d4a88e"/><path d="M580 760 L690 920 L600 900 Z M830 760 L700 920 L800 890 Z" fill="#1a222c"/><circle cx="696" cy="950" r="16" fill="#d8d8d8"/><circle cx="696" cy="1120" r="16" fill="#d8d8d8"/><path d="M550 520 Q545 340 700 330 Q850 340 850 520 Q850 660 780 720 Q700 760 630 720 Q550 660 550 520 Z" fill="#dcb39c"/><path d="M520 520 Q500 300 700 280 Q880 290 860 520 Q830 400 700 400 Q580 400 550 520 Z" fill="#3a2a24"/><path d="M560 580 Q580 720 700 750 Q820 720 830 580 Q800 660 700 640 Q600 660 560 580 Z" fill="#5a4034"/><path d="M630 620 Q700 590 770 620" stroke="#4a3228" stroke-width="24" fill="none"/><ellipse cx="630" cy="500" rx="34" ry="14" fill="#3a2820"/><ellipse cx="770" cy="500" rx="34" ry="14" fill="#3a2820"/><ellipse cx="700" cy="540" rx="30" ry="40" fill="#e8c4ae"/><path d="M380 1150 Q440 1120 520 1240 L470 1250 Q420 1200 380 1200 Z" fill="#e6c0a8"/><path d="M330 1100 Q600 1240 900 1180 M500 1280 Q800 1220 1100 1100" stroke="#2e3846" stroke-width="30" fill="none"/></g></g></g><path d="M89.94 1343.77 A37.1 37.1 0 0 1 109.04 1413.86" fill="none" stroke="#41969d" stroke-width="5.2"/></svg>
<div class="t" style="left:164.65px;top:1363.41px;font-size:28.7px;line-height:28.7px;color:#222;font-weight:400;letter-spacing:0.049px;transform:scaleX(1.0045);transform-origin:0 0;-webkit-text-stroke:0.5px #222;">Jannis</div>
<div class="t" style="left:256.76px;top:1363.41px;font-size:28.7px;line-height:28.7px;color:#222;font-weight:400;letter-spacing:-0.159px;transform:scaleX(0.9879);transform-origin:0 0;-webkit-text-stroke:0.5px #222;">Geyer</div>
<div class="t" style="left:344.53px;top:1367.38px;font-size:24.0px;line-height:24.0px;color:#555;font-weight:400;letter-spacing:0.188px;transform:scaleX(1.0193);transform-origin:0 0;-webkit-text-stroke:0.5px #555;">(VZ)</div>
<svg class="b" style="left:524.00px;top:1362.70px;" width="40.00" height="40.00" viewBox="524 1362.70 40 40"><circle cx="544" cy="1382.7" r="16.5" fill="none" stroke="#429ca8" stroke-width="2.7"/><circle cx="544" cy="1375.8" r="1.9" fill="#429ca8"/><path d="M544 1380.1000000000001 V1391.7" stroke="#429ca8" stroke-width="2.7" fill="none"/></svg>
<div class="b" style="left:613.80px;top:139.50px;width:6.00px;height:364.00px;border-left:6px dotted #222;width:0;"></div>
<div class="b" style="left:1586.00px;top:140.00px;width:322.00px;height:363.50px;box-shadow:inset 0 0 7px rgba(64,154,167,0.045);"></div>
<div class="b" style="left:1893.00px;top:140.00px;width:15.00px;height:363.50px;background:linear-gradient(to right, rgba(64,154,167,0) 0%, rgba(64,154,167,0.06) 40%, rgba(64,154,167,0.28) 100%);"></div>
<div class="b" style="left:1908.00px;top:140.00px;width:2.00px;height:363.50px;background:#409aa7;"></div>
<div class="t" style="left:653.30px;top:195.37px;font-size:23.9px;line-height:23.9px;color:#10162a;font-weight:700;letter-spacing:-0.045px;transform:scaleX(0.9960);transform-origin:0 0;-webkit-text-stroke:0.6px #10162a;">Aug.</div>
<div class="t" style="left:1926.77px;top:195.37px;font-size:23.9px;line-height:23.9px;color:#6c7183;font-weight:700;letter-spacing:0.319px;transform:scaleX(1.0274);transform-origin:0 0;-webkit-text-stroke:0.6px #6c7183;">KW 32</div>
<svg class="b" style="left:2024.00px;top:186.00px;" width="38.00" height="38.00" viewBox="2024 186 38 38"><g fill="none" stroke="#8e8e8e" stroke-width="2.2"><path d="M2036.3 199 V192 H2049.6 V199"/><path d="M2036.3 212.6 H2031 Q2029.2 212.6 2029.2 210.8 V201.6 Q2029.2 199.8 2031 199.8 H2054.9 Q2056.7 199.8 2056.7 201.6 V210.8 Q2056.7 212.6 2054.9 212.6 H2049.6"/><path d="M2036.3 206.2 H2049.6 V217.8 H2036.3 Z"/></g><circle cx="2053" cy="203.2" r="1.1" fill="#8e8e8e"/></svg>
<div class="t" style="left:654.03px;top:236.76px;font-size:24.5px;line-height:24.5px;color:#409aa7;font-weight:400;letter-spacing:0.244px;transform:scaleX(1.0224);transform-origin:0 0;-webkit-text-stroke:0.5px #409aa7;">1 Do</div>
<svg class="b" style="left:830.00px;top:230.90px;" width="32.00" height="32.00" viewBox="830.00 230.90 32 32"><circle cx="846" cy="246.9" r="12.85" fill="none" stroke="#409aa7" stroke-width="2.1"/><path d="M840.40 246.00 L844.30 251.30 L851.60 242.30" fill="none" stroke="#409aa7" stroke-width="2.1"/></svg>
<div class="t" style="left:652.39px;top:280.56px;font-size:24.5px;line-height:24.5px;color:#222;font-weight:400;letter-spacing:0.57px;transform:scaleX(1.0606);transform-origin:0 0;-webkit-text-stroke:0.5px #222;">28 °C</div>
<div class="t" style="left:652.38px;top:324.46px;font-size:24.5px;line-height:24.5px;color:#222;font-weight:400;letter-spacing:0.561px;transform:scaleX(1.0679);transform-origin:0 0;-webkit-text-stroke:0.5px #222;">8,1 k€</div>
<div class="t" style="left:652.38px;top:364.36px;font-size:24.5px;line-height:24.5px;color:#f0a93b;font-weight:400;letter-spacing:0.465px;transform:scaleX(1.0666);transform-origin:0 0;-webkit-text-stroke:0.5px #f0a93b;">91,4 € / h</div>
<div class="t" style="left:652.58px;top:404.16px;font-size:24.5px;line-height:24.5px;color:#222;font-weight:400;letter-spacing:0.647px;transform:scaleX(1.0707);transform-origin:0 0;-webkit-text-stroke:0.5px #222;">14,45 %</div>
<div class="t" style="left:652.37px;top:443.96px;font-size:24.5px;line-height:24.5px;color:#f0a93b;font-weight:400;letter-spacing:0.547px;transform:scaleX(1.0753);transform-origin:0 0;-webkit-text-stroke:0.5px #f0a93b;">88,5 / 94</div>
<svg class="b" style="left:727.90px;top:276.20px;" width="42.00" height="40.00" viewBox="727.90 276.20 42 40"><path d="M734.01 294.25 L730.89 296.05" stroke="#f0a830" stroke-width="2.2"/><path d="M732.90 290.24 L729.30 290.31" stroke="#f0a830" stroke-width="2.2"/><path d="M733.87 286.20 L730.69 284.51" stroke="#f0a830" stroke-width="2.2"/><path d="M736.68 283.14 L734.72 280.12" stroke="#f0a830" stroke-width="2.2"/><path d="M740.62 281.82 L740.37 278.23" stroke="#f0a830" stroke-width="2.2"/><path d="M744.71 282.58 L746.23 279.31" stroke="#f0a830" stroke-width="2.2"/><circle cx="741.2" cy="290.09999999999997" r="5.3" fill="#fef250" stroke="#f0aa32" stroke-width="1.9"/><path d="M741.10 303.10 Q736.50 303.10 736.50 298.50 Q736.50 294.60 740.50 293.80 Q741.30 289.80 745.30 289.60 Q747.30 283.80 754.10 283.80 Q761.50 284.00 761.70 292.00 Q766.30 292.80 766.30 297.80 Q766.30 303.10 760.90 303.10 Z" fill="#e6e7ea" stroke="#8a8d93" stroke-width="1.7"/><path d="M749.70 306.20 L746.50 312.60 M754.50 306.20 L751.30 312.60" stroke="#2b6fdb" stroke-width="1.7" fill="none"/></svg>
<div class="t" style="left:954.11px;top:236.76px;font-size:24.5px;line-height:24.5px;color:#409aa7;font-weight:400;letter-spacing:0.335px;transform:scaleX(1.0368);transform-origin:0 0;-webkit-text-stroke:0.5px #409aa7;">2 Fr</div>
<svg class="b" style="left:1146.60px;top:230.90px;" width="32.00" height="32.00" viewBox="1146.60 230.90 32 32"><circle cx="1162.6" cy="246.9" r="12.85" fill="none" stroke="#409aa7" stroke-width="2.1"/><path d="M1157.00 246.00 L1160.90 251.30 L1168.20 242.30" fill="none" stroke="#409aa7" stroke-width="2.1"/></svg>
<div class="t" style="left:954.09px;top:280.56px;font-size:24.5px;line-height:24.5px;color:#222;font-weight:400;letter-spacing:0.57px;transform:scaleX(1.0606);transform-origin:0 0;-webkit-text-stroke:0.5px #222;">26 °C</div>
<div class="t" style="left:954.08px;top:324.46px;font-size:24.5px;line-height:24.5px;color:#222;font-weight:400;letter-spacing:0.561px;transform:scaleX(1.0679);transform-origin:0 0;-webkit-text-stroke:0.5px #222;">8,1 k€</div>
<div class="t" style="left:954.08px;top:364.36px;font-size:24.5px;line-height:24.5px;color:#6abf3c;font-weight:400;letter-spacing:0.465px;transform:scaleX(1.0666);transform-origin:0 0;-webkit-text-stroke:0.5px #6abf3c;">86,6 € / h</div>
<div class="t" style="left:954.28px;top:404.16px;font-size:24.5px;line-height:24.5px;color:#222;font-weight:400;letter-spacing:0.647px;transform:scaleX(1.0707);transform-origin:0 0;-webkit-text-stroke:0.5px #222;">15,31 %</div>
<div class="t" style="left:954.08px;top:443.96px;font-size:24.5px;line-height:24.5px;color:#f0a93b;font-weight:400;letter-spacing:0.547px;transform:scaleX(1.0721);transform-origin:0 0;-webkit-text-stroke:0.5px #f0a93b;">93 / 92</div>
<svg class="b" style="left:1029.60px;top:276.20px;" width="42.00" height="40.00" viewBox="1029.60 276.20 42 40"><path d="M1035.71 294.25 L1032.59 296.05" stroke="#f0a830" stroke-width="2.2"/><path d="M1034.60 290.24 L1031.00 290.31" stroke="#f0a830" stroke-width="2.2"/><path d="M1035.57 286.20 L1032.39 284.51" stroke="#f0a830" stroke-width="2.2"/><path d="M1038.38 283.14 L1036.42 280.12" stroke="#f0a830" stroke-width="2.2"/><path d="M1042.32 281.82 L1042.07 278.23" stroke="#f0a830" stroke-width="2.2"/><path d="M1046.41 282.58 L1047.93 279.31" stroke="#f0a830" stroke-width="2.2"/><circle cx="1042.8999999999999" cy="290.09999999999997" r="5.3" fill="#fef250" stroke="#f0aa32" stroke-width="1.9"/><path d="M1042.80 303.10 Q1038.20 303.10 1038.20 298.50 Q1038.20 294.60 1042.20 293.80 Q1043.00 289.80 1047.00 289.60 Q1049.00 283.80 1055.80 283.80 Q1063.20 284.00 1063.40 292.00 Q1068.00 292.80 1068.00 297.80 Q1068.00 303.10 1062.60 303.10 Z" fill="#e6e7ea" stroke="#8a8d93" stroke-width="1.7"/><path d="M1051.40 306.20 L1048.20 312.60 M1056.20 306.20 L1053.00 312.60" stroke="#2b6fdb" stroke-width="1.7" fill="none"/></svg>
<div class="t" style="left:1279.15px;top:236.76px;font-size:24.5px;line-height:24.5px;color:#f0a93b;font-weight:400;letter-spacing:-0.037px;transform:scaleX(0.9968);transform-origin:0 0;-webkit-text-stroke:0.5px #f0a93b;">3 Sa</div>
<svg class="b" style="left:1470.60px;top:230.90px;" width="32.00" height="32.00" viewBox="1470.60 230.90 32 32"><circle cx="1486.6" cy="246.9" r="12.85" fill="none" stroke="#409aa7" stroke-width="2.1"/><path d="M1481.00 246.00 L1484.90 251.30 L1492.20 242.30" fill="none" stroke="#409aa7" stroke-width="2.1"/></svg>
<div class="t" style="left:1278.09px;top:280.56px;font-size:24.5px;line-height:24.5px;color:#222;font-weight:400;letter-spacing:0.57px;transform:scaleX(1.0606);transform-origin:0 0;-webkit-text-stroke:0.5px #222;">26 °C</div>
<div class="t" style="left:1278.08px;top:324.46px;font-size:24.5px;line-height:24.5px;color:#222;font-weight:400;letter-spacing:0.561px;transform:scaleX(1.0679);transform-origin:0 0;-webkit-text-stroke:0.5px #222;">8,0 k€</div>
<div class="t" style="left:1278.08px;top:364.36px;font-size:24.5px;line-height:24.5px;color:#e33b3b;font-weight:400;letter-spacing:0.465px;transform:scaleX(1.0666);transform-origin:0 0;-webkit-text-stroke:0.5px #e33b3b;">72,2 € / h</div>
<div class="t" style="left:1278.28px;top:404.16px;font-size:24.5px;line-height:24.5px;color:#222;font-weight:400;letter-spacing:0.647px;transform:scaleX(1.0707);transform-origin:0 0;-webkit-text-stroke:0.5px #222;">16,81 %</div>
<div class="t" style="left:1278.26px;top:443.96px;font-size:24.5px;line-height:24.5px;color:#f0a93b;font-weight:400;letter-spacing:0.613px;transform:scaleX(1.0851);transform-origin:0 0;-webkit-text-stroke:0.5px #f0a93b;">110,5 / 99</div>
<svg class="b" style="left:1360.90px;top:280.00px;" width="28.00" height="28.00" viewBox="1360.90 280.00 28 28"><path d="M1374.90 284.90 L1374.90 281.70" stroke="#f0a830" stroke-width="1.9"/><path d="M1379.45 286.12 L1381.05 283.35" stroke="#f0a830" stroke-width="1.9"/><path d="M1382.78 289.45 L1385.55 287.85" stroke="#f0a830" stroke-width="1.9"/><path d="M1384.00 294.00 L1387.20 294.00" stroke="#f0a830" stroke-width="1.9"/><path d="M1382.78 298.55 L1385.55 300.15" stroke="#f0a830" stroke-width="1.9"/><path d="M1379.45 301.88 L1381.05 304.65" stroke="#f0a830" stroke-width="1.9"/><path d="M1374.90 303.10 L1374.90 306.30" stroke="#f0a830" stroke-width="1.9"/><path d="M1370.35 301.88 L1368.75 304.65" stroke="#f0a830" stroke-width="1.9"/><path d="M1367.02 298.55 L1364.25 300.15" stroke="#f0a830" stroke-width="1.9"/><path d="M1365.80 294.00 L1362.60 294.00" stroke="#f0a830" stroke-width="1.9"/><path d="M1367.02 289.45 L1364.25 287.85" stroke="#f0a830" stroke-width="1.9"/><path d="M1370.35 286.12 L1368.75 283.35" stroke="#f0a830" stroke-width="1.9"/><circle cx="1374.9" cy="294" r="5.9" fill="#fef250" stroke="#f0aa32" stroke-width="1.9"/></svg>
<div class="t" style="left:1602.95px;top:236.76px;font-size:24.5px;line-height:24.5px;color:#f0a93b;font-weight:400;letter-spacing:0.251px;transform:scaleX(1.0232);transform-origin:0 0;-webkit-text-stroke:0.5px #f0a93b;">4 So</div>
<svg class="b" style="left:1792.60px;top:230.90px;" width="32.00" height="32.00" viewBox="1792.60 230.90 32 32"><circle cx="1808.6" cy="246.9" r="12.85" fill="none" stroke="#409aa7" stroke-width="2.1"/><path d="M1803.00 246.00 L1806.90 251.30 L1814.20 242.30" fill="none" stroke="#409aa7" stroke-width="2.1"/></svg>
<div class="t" style="left:1601.89px;top:280.56px;font-size:24.5px;line-height:24.5px;color:#222;font-weight:400;letter-spacing:0.57px;transform:scaleX(1.0606);transform-origin:0 0;-webkit-text-stroke:0.5px #222;">24 °C</div>
<div class="t" style="left:1601.88px;top:324.46px;font-size:24.5px;line-height:24.5px;color:#222;font-weight:400;letter-spacing:0.561px;transform:scaleX(1.0679);transform-origin:0 0;-webkit-text-stroke:0.5px #222;">7,7 k€</div>
<div class="t" style="left:1601.88px;top:364.36px;font-size:24.5px;line-height:24.5px;color:#e33b3b;font-weight:400;letter-spacing:0.465px;transform:scaleX(1.0666);transform-origin:0 0;-webkit-text-stroke:0.5px #e33b3b;">68,6 € / h</div>
<div class="t" style="left:1602.08px;top:404.16px;font-size:24.5px;line-height:24.5px;color:#222;font-weight:400;letter-spacing:0.647px;transform:scaleX(1.0707);transform-origin:0 0;-webkit-text-stroke:0.5px #222;">18,23 %</div>
<div class="t" style="left:1602.06px;top:443.96px;font-size:24.5px;line-height:24.5px;color:#e33b3b;font-weight:400;letter-spacing:0.613px;transform:scaleX(1.0851);transform-origin:0 0;-webkit-text-stroke:0.5px #e33b3b;">112,5 / 95</div>
<svg class="b" style="left:1677.40px;top:276.20px;" width="42.00" height="40.00" viewBox="1677.40 276.20 42 40"><path d="M1683.51 294.25 L1680.39 296.05" stroke="#f0a830" stroke-width="2.2"/><path d="M1682.40 290.24 L1678.80 290.31" stroke="#f0a830" stroke-width="2.2"/><path d="M1683.37 286.20 L1680.19 284.51" stroke="#f0a830" stroke-width="2.2"/><path d="M1686.18 283.14 L1684.22 280.12" stroke="#f0a830" stroke-width="2.2"/><path d="M1690.12 281.82 L1689.87 278.23" stroke="#f0a830" stroke-width="2.2"/><path d="M1694.21 282.58 L1695.73 279.31" stroke="#f0a830" stroke-width="2.2"/><circle cx="1690.7" cy="290.09999999999997" r="5.3" fill="#fef250" stroke="#f0aa32" stroke-width="1.9"/><path d="M1690.60 303.10 Q1686.00 303.10 1686.00 298.50 Q1686.00 294.60 1690.00 293.80 Q1690.80 289.80 1694.80 289.60 Q1696.80 283.80 1703.60 283.80 Q1711.00 284.00 1711.20 292.00 Q1715.80 292.80 1715.80 297.80 Q1715.80 303.10 1710.40 303.10 Z" fill="#e6e7ea" stroke="#8a8d93" stroke-width="1.7"/><path d="M1699.20 306.20 L1696.00 312.60 M1704.00 306.20 L1700.80 312.60" stroke="#2b6fdb" stroke-width="1.7" fill="none"/></svg>
<div class="t" style="left:1926.95px;top:236.76px;font-size:24.5px;line-height:24.5px;color:#409aa7;font-weight:400;letter-spacing:0.506px;transform:scaleX(1.0441);transform-origin:0 0;-webkit-text-stroke:0.5px #409aa7;">5 Mo</div>
<svg class="b" style="left:2118.60px;top:230.90px;" width="32.00" height="32.00" viewBox="2118.60 230.90 32 32"><circle cx="2134.6" cy="246.9" r="12.85" fill="none" stroke="#409aa7" stroke-width="2.1"/><path d="M2129.00 246.00 L2132.90 251.30 L2140.20 242.30" fill="none" stroke="#409aa7" stroke-width="2.1"/></svg>
<div class="t" style="left:1925.89px;top:280.56px;font-size:24.5px;line-height:24.5px;color:#222;font-weight:400;letter-spacing:0.57px;transform:scaleX(1.0606);transform-origin:0 0;-webkit-text-stroke:0.5px #222;">27 °C</div>
<div class="t" style="left:1925.88px;top:324.46px;font-size:24.5px;line-height:24.5px;color:#222;font-weight:400;letter-spacing:0.561px;transform:scaleX(1.0679);transform-origin:0 0;-webkit-text-stroke:0.5px #222;">8,0 k€</div>
<div class="t" style="left:1926.95px;top:364.36px;font-size:24.5px;line-height:24.5px;color:#e33b3b;font-weight:400;letter-spacing:0.426px;transform:scaleX(1.0601);transform-origin:0 0;-webkit-text-stroke:0.5px #e33b3b;">52,5 € / h</div>
<div class="t" style="left:1925.88px;top:404.16px;font-size:24.5px;line-height:24.5px;color:#222;font-weight:400;letter-spacing:0.647px;transform:scaleX(1.0707);transform-origin:0 0;-webkit-text-stroke:0.5px #222;">26,22 %</div>
<div class="t" style="left:1926.08px;top:443.96px;font-size:24.5px;line-height:24.5px;color:#e33b3b;font-weight:400;letter-spacing:0.544px;transform:scaleX(1.0735);transform-origin:0 0;-webkit-text-stroke:0.5px #e33b3b;">152,5 / 91</div>
<svg class="b" style="left:2008.70px;top:280.00px;" width="28.00" height="28.00" viewBox="2008.70 280.00 28 28"><path d="M2022.70 284.90 L2022.70 281.70" stroke="#f0a830" stroke-width="1.9"/><path d="M2027.25 286.12 L2028.85 283.35" stroke="#f0a830" stroke-width="1.9"/><path d="M2030.58 289.45 L2033.35 287.85" stroke="#f0a830" stroke-width="1.9"/><path d="M2031.80 294.00 L2035.00 294.00" stroke="#f0a830" stroke-width="1.9"/><path d="M2030.58 298.55 L2033.35 300.15" stroke="#f0a830" stroke-width="1.9"/><path d="M2027.25 301.88 L2028.85 304.65" stroke="#f0a830" stroke-width="1.9"/><path d="M2022.70 303.10 L2022.70 306.30" stroke="#f0a830" stroke-width="1.9"/><path d="M2018.15 301.88 L2016.55 304.65" stroke="#f0a830" stroke-width="1.9"/><path d="M2014.82 298.55 L2012.05 300.15" stroke="#f0a830" stroke-width="1.9"/><path d="M2013.60 294.00 L2010.40 294.00" stroke="#f0a830" stroke-width="1.9"/><path d="M2014.82 289.45 L2012.05 287.85" stroke="#f0a830" stroke-width="1.9"/><path d="M2018.15 286.12 L2016.55 283.35" stroke="#f0a830" stroke-width="1.9"/><circle cx="2022.7" cy="294" r="5.9" fill="#fef250" stroke="#f0aa32" stroke-width="1.9"/></svg>
<div class="t" style="left:2249.89px;top:236.76px;font-size:24.5px;line-height:24.5px;color:#409aa7;font-weight:400;letter-spacing:0.513px;transform:scaleX(1.0594);transform-origin:0 0;-webkit-text-stroke:0.5px #409aa7;">6 Di</div>
<div class="t" style="left:2249.89px;top:280.56px;font-size:24.5px;line-height:24.5px;color:#222;font-weight:400;letter-spacing:0.57px;transform:scaleX(1.0606);transform-origin:0 0;-webkit-text-stroke:0.5px #222;">29 °C</div>
<div class="t" style="left:2249.88px;top:324.46px;font-size:24.5px;line-height:24.5px;color:#222;font-weight:400;letter-spacing:0.561px;transform:scaleX(1.0679);transform-origin:0 0;-webkit-text-stroke:0.5px #222;">8,1 k€</div>
<div class="t" style="left:2249.88px;top:364.36px;font-size:24.5px;line-height:24.5px;color:#e33b3b;font-weight:400;letter-spacing:0.465px;transform:scaleX(1.0666);transform-origin:0 0;-webkit-text-stroke:0.5px #e33b3b;">69,8 € / h</div>
<div class="t" style="left:2249.88px;top:404.16px;font-size:24.5px;line-height:24.5px;color:#222;font-weight:400;letter-spacing:0.647px;transform:scaleX(1.0707);transform-origin:0 0;-webkit-text-stroke:0.5px #222;">20,41 %</div>
<div class="t" style="left:2250.06px;top:443.96px;font-size:24.5px;line-height:24.5px;color:#e33b3b;font-weight:400;letter-spacing:0.613px;transform:scaleX(1.0851);transform-origin:0 0;-webkit-text-stroke:0.5px #e33b3b;">115,5 / 97</div>
<svg class="b" style="left:2332.70px;top:280.00px;" width="28.00" height="28.00" viewBox="2332.70 280.00 28 28"><path d="M2346.70 284.90 L2346.70 281.70" stroke="#f0a830" stroke-width="1.9"/><path d="M2351.25 286.12 L2352.85 283.35" stroke="#f0a830" stroke-width="1.9"/><path d="M2354.58 289.45 L2357.35 287.85" stroke="#f0a830" stroke-width="1.9"/><path d="M2355.80 294.00 L2359.00 294.00" stroke="#f0a830" stroke-width="1.9"/><path d="M2354.58 298.55 L2357.35 300.15" stroke="#f0a830" stroke-width="1.9"/><path d="M2351.25 301.88 L2352.85 304.65" stroke="#f0a830" stroke-width="1.9"/><path d="M2346.70 303.10 L2346.70 306.30" stroke="#f0a830" stroke-width="1.9"/><path d="M2342.15 301.88 L2340.55 304.65" stroke="#f0a830" stroke-width="1.9"/><path d="M2338.82 298.55 L2336.05 300.15" stroke="#f0a830" stroke-width="1.9"/><path d="M2337.60 294.00 L2334.40 294.00" stroke="#f0a830" stroke-width="1.9"/><path d="M2338.82 289.45 L2336.05 287.85" stroke="#f0a830" stroke-width="1.9"/><path d="M2342.15 286.12 L2340.55 283.35" stroke="#f0a830" stroke-width="1.9"/><circle cx="2346.7" cy="294" r="5.9" fill="#fef250" stroke="#f0aa32" stroke-width="1.9"/></svg>
<div class="b" style="left:612.40px;top:513.00px;width:1.60px;height:108.00px;background:#d6d6d6;"></div>
<div class="b" style="left:614.00px;top:513.00px;width:1830.00px;height:108.00px;border-top:3px solid #d6d6d6;border-bottom:3px solid #d6d6d6;border-left:6px dotted #222;"></div>
<div class="b" style="left:935.00px;top:516.00px;width:3.00px;height:102.00px;background:#d6d6d6;"></div>
<div class="b" style="left:1259.00px;top:516.00px;width:3.00px;height:102.00px;background:#d6d6d6;"></div>
<div class="b" style="left:1583.00px;top:516.00px;width:3.00px;height:102.00px;background:#d6d6d6;"></div>
<div class="b" style="left:2231.00px;top:516.00px;width:3.00px;height:102.00px;background:#d6d6d6;"></div>
<div class="b" style="left:1894.00px;top:516.00px;width:14.00px;height:102.00px;background:linear-gradient(to right, rgba(64,154,167,0) 0%, rgba(64,154,167,0.06) 40%, rgba(64,154,167,0.28) 100%);"></div>
<div class="b" style="left:1908.00px;top:514.50px;width:2.00px;height:105.00px;background:#409aa7;"></div>
<div class="b" style="left:944.30px;top:522.00px;width:307.70px;height:92.00px;border:3px solid #efefef;border-radius:13px;background:#fafafa;"></div>
<div class="t" style="left:954.69px;top:540.52px;font-size:23.6px;line-height:23.6px;color:#222;font-weight:700;letter-spacing:0.744px;transform:scaleX(1.1053);transform-origin:0 0;-webkit-text-stroke:0.6px #222;">16:30 - 00:00</div>
<div class="t" style="left:953.75px;top:581.19px;font-size:23.4px;line-height:23.4px;color:#222;font-weight:400;letter-spacing:0.018px;transform:scaleX(1.0015);transform-origin:0 0;-webkit-text-stroke:0.5px #222;">Bar</div>
<div class="b" style="left:1918.00px;top:522.00px;width:304.00px;height:7.80px;background:#c3e4fb;border-radius:2.5px 2.5px 0 0;"></div>
<div class="b" style="left:1918.00px;top:529.80px;width:304.00px;height:84.00px;background:#fafafa;border-radius:0 0 2.5px 2.5px;"></div>
<svg class="b" style="left:2010.10px;top:552.20px;" width="32.00" height="30.00" viewBox="2010.10 552.20 32 30"><path d="M2011.10 579.40 Q2025.10 572.60 2039.10 579.40 Z" fill="#222"/><path d="M2025.00 561.20 L2028.90 577.20" stroke="#222" stroke-width="2" fill="none"/><path d="M2015.50 564.40 Q2014.70 555.60 2023.50 553.20 Q2027.10 556.60 2028.90 560.40 Q2025.50 559.60 2022.70 561.80 Q2018.50 561.60 2015.50 564.40 Z" fill="#222"/><path d="M2020.30 554.80 L2022.30 553.90 L2022.30 561.60 L2020.30 561.80 Z" fill="#9a9a9a"/><path d="M2026.10 553.20 Q2032.10 553.60 2034.90 559.00 Q2032.30 558.60 2030.50 560.20 Q2028.90 556.20 2026.10 553.20 Z" fill="#222"/></svg>
<div class="t" style="left:2049.67px;top:559.97px;font-size:23.9px;line-height:23.9px;color:#222;font-weight:700;letter-spacing:0.267px;transform:scaleX(1.0278);transform-origin:0 0;-webkit-text-stroke:0.6px #222;">Urlaub</div>
<div class="b" style="left:2242.00px;top:522.00px;width:304.00px;height:7.80px;background:#c3e4fb;border-radius:2.5px 2.5px 0 0;"></div>
<div class="b" style="left:2242.00px;top:529.80px;width:304.00px;height:84.00px;background:#fafafa;border-radius:0 0 2.5px 2.5px;"></div>
<svg class="b" style="left:2334.10px;top:552.20px;" width="32.00" height="30.00" viewBox="2334.10 552.20 32 30"><path d="M2335.10 579.40 Q2349.10 572.60 2363.10 579.40 Z" fill="#222"/><path d="M2349.00 561.20 L2352.90 577.20" stroke="#222" stroke-width="2" fill="none"/><path d="M2339.50 564.40 Q2338.70 555.60 2347.50 553.20 Q2351.10 556.60 2352.90 560.40 Q2349.50 559.60 2346.70 561.80 Q2342.50 561.60 2339.50 564.40 Z" fill="#222"/><path d="M2344.30 554.80 L2346.30 553.90 L2346.30 561.60 L2344.30 561.80 Z" fill="#9a9a9a"/><path d="M2350.10 553.20 Q2356.10 553.60 2358.90 559.00 Q2356.30 558.60 2354.50 560.20 Q2352.90 556.20 2350.10 553.20 Z" fill="#222"/></svg>
<div class="t" style="left:2373.67px;top:559.97px;font-size:23.9px;line-height:23.9px;color:#222;font-weight:700;letter-spacing:0.267px;transform:scaleX(1.0278);transform-origin:0 0;-webkit-text-stroke:0.6px #222;">Urlaub</div>
<div class="b" style="left:612.40px;top:629.00px;width:1.60px;height:108.00px;background:#d6d6d6;"></div>
<div class="b" style="left:614.00px;top:629.00px;width:1830.00px;height:108.00px;border-top:3px solid #d6d6d6;border-bottom:3px solid #d6d6d6;border-left:6px dotted #222;"></div>
<div class="b" style="left:935.00px;top:632.00px;width:3.00px;height:102.00px;background:#d6d6d6;"></div>
<div class="b" style="left:1259.00px;top:632.00px;width:3.00px;height:102.00px;background:#d6d6d6;"></div>
<div class="b" style="left:1583.00px;top:632.00px;width:3.00px;height:102.00px;background:#d6d6d6;"></div>
<div class="b" style="left:2231.00px;top:632.00px;width:3.00px;height:102.00px;background:#d6d6d6;"></div>
<div class="b" style="left:1894.00px;top:632.00px;width:14.00px;height:102.00px;background:linear-gradient(to right, rgba(64,154,167,0) 0%, rgba(64,154,167,0.06) 40%, rgba(64,154,167,0.28) 100%);"></div>
<div class="b" style="left:1908.00px;top:630.50px;width:2.00px;height:105.00px;background:#409aa7;"></div>
<div class="b" style="left:626.30px;top:638.00px;width:307.70px;height:92.00px;border:3px solid #efefef;border-radius:13px;background:#fafafa;"></div>
<div class="t" style="left:636.69px;top:656.52px;font-size:23.6px;line-height:23.6px;color:#222;font-weight:700;letter-spacing:0.744px;transform:scaleX(1.1053);transform-origin:0 0;-webkit-text-stroke:0.6px #222;">10:00 - 15:00</div>
<div class="t" style="left:635.70px;top:697.19px;font-size:23.4px;line-height:23.4px;color:#222;font-weight:400;letter-spacing:0.401px;transform:scaleX(1.0499);transform-origin:0 0;-webkit-text-stroke:0.5px #222;">Service</div>
<div class="b" style="left:944.30px;top:638.00px;width:307.70px;height:92.00px;border:3px solid #efefef;border-radius:13px;background:#fafafa;"></div>
<div class="t" style="left:954.69px;top:656.52px;font-size:23.6px;line-height:23.6px;color:#222;font-weight:700;letter-spacing:0.779px;transform:scaleX(1.1119);transform-origin:0 0;-webkit-text-stroke:0.6px #222;">11:00 - 19:00</div>
<div class="t" style="left:953.70px;top:697.19px;font-size:23.4px;line-height:23.4px;color:#222;font-weight:400;letter-spacing:0.401px;transform:scaleX(1.0499);transform-origin:0 0;-webkit-text-stroke:0.5px #222;">Service</div>
<div class="b" style="left:1268.30px;top:638.00px;width:307.70px;height:92.00px;border:3px solid #efefef;border-radius:13px;background:#fafafa;"></div>
<div class="t" style="left:1278.69px;top:656.52px;font-size:23.6px;line-height:23.6px;color:#222;font-weight:700;letter-spacing:0.744px;transform:scaleX(1.1053);transform-origin:0 0;-webkit-text-stroke:0.6px #222;">19:30 - 00:00</div>
<div class="t" style="left:1277.70px;top:697.19px;font-size:23.4px;line-height:23.4px;color:#222;font-weight:400;letter-spacing:0.401px;transform:scaleX(1.0499);transform-origin:0 0;-webkit-text-stroke:0.5px #222;">Service</div>
<div class="b" style="left:612.40px;top:746.00px;width:1.60px;height:108.00px;background:#d6d6d6;"></div>
<div class="b" style="left:614.00px;top:746.00px;width:1830.00px;height:108.00px;border-top:3px solid #d6d6d6;border-bottom:3px solid #d6d6d6;border-left:6px dotted #222;"></div>
<div class="b" style="left:935.00px;top:749.00px;width:3.00px;height:102.00px;background:#d6d6d6;"></div>
<div class="b" style="left:1259.00px;top:749.00px;width:3.00px;height:102.00px;background:#d6d6d6;"></div>
<div class="b" style="left:1583.00px;top:749.00px;width:3.00px;height:102.00px;background:#d6d6d6;"></div>
<div class="b" style="left:2231.00px;top:749.00px;width:3.00px;height:102.00px;background:#d6d6d6;"></div>
<div class="b" style="left:1894.00px;top:749.00px;width:14.00px;height:102.00px;background:linear-gradient(to right, rgba(64,154,167,0) 0%, rgba(64,154,167,0.06) 40%, rgba(64,154,167,0.28) 100%);"></div>
<div class="b" style="left:1908.00px;top:747.50px;width:2.00px;height:105.00px;background:#409aa7;"></div>
<div class="b" style="left:626.30px;top:755.00px;width:307.70px;height:92.00px;border:3px solid #efefef;border-radius:13px;background:#fafafa;"></div>
<div class="t" style="left:636.69px;top:773.52px;font-size:23.6px;line-height:23.6px;color:#222;font-weight:700;letter-spacing:0.779px;transform:scaleX(1.1119);transform-origin:0 0;-webkit-text-stroke:0.6px #222;">11:00 - 17:00</div>
<div class="t" style="left:635.71px;top:814.19px;font-size:23.4px;line-height:23.4px;color:#222;font-weight:400;letter-spacing:0.355px;transform:scaleX(1.0382);transform-origin:0 0;-webkit-text-stroke:0.5px #222;">Spüle</div>
<div class="b" style="left:1268.30px;top:755.00px;width:307.70px;height:92.00px;border:3px solid #efefef;border-radius:13px;background:#fafafa;"></div>
<div class="t" style="left:1278.40px;top:773.52px;font-size:23.6px;line-height:23.6px;color:#222;font-weight:700;letter-spacing:0.755px;transform:scaleX(1.1063);transform-origin:0 0;-webkit-text-stroke:0.6px #222;">08:00 - 15:00</div>
<div class="t" style="left:1277.70px;top:814.19px;font-size:23.4px;line-height:23.4px;color:#222;font-weight:400;letter-spacing:0.401px;transform:scaleX(1.0499);transform-origin:0 0;-webkit-text-stroke:0.5px #222;">Service</div>
<div class="b" style="left:1592.30px;top:755.00px;width:307.70px;height:92.00px;border:3px solid #efefef;border-radius:13px;background:#fafafa;"></div>
<div class="t" style="left:1602.40px;top:773.52px;font-size:23.6px;line-height:23.6px;color:#222;font-weight:700;letter-spacing:0.755px;transform:scaleX(1.1063);transform-origin:0 0;-webkit-text-stroke:0.6px #222;">08:00 - 15:00</div>
<div class="t" style="left:1601.75px;top:814.19px;font-size:23.4px;line-height:23.4px;color:#222;font-weight:400;letter-spacing:0.018px;transform:scaleX(1.0015);transform-origin:0 0;-webkit-text-stroke:0.5px #222;">Bar</div>
<div class="b" style="left:1916.30px;top:755.00px;width:307.70px;height:92.00px;border:3px solid #efefef;border-radius:13px;background:#fafafa;"></div>
<div class="t" style="left:1926.40px;top:773.52px;font-size:23.6px;line-height:23.6px;color:#222;font-weight:700;letter-spacing:0.755px;transform:scaleX(1.1063);transform-origin:0 0;-webkit-text-stroke:0.6px #222;">08:00 - 16:30</div>
<div class="t" style="left:1925.72px;top:814.19px;font-size:23.4px;line-height:23.4px;color:#222;font-weight:400;letter-spacing:0.356px;transform:scaleX(1.0344);transform-origin:0 0;-webkit-text-stroke:0.5px #222;">Küche</div>
<div class="b" style="left:612.40px;top:862.00px;width:1.60px;height:108.00px;background:#d6d6d6;"></div>
<div class="b" style="left:614.00px;top:862.00px;width:1830.00px;height:108.00px;border-top:3px solid #d6d6d6;border-bottom:3px solid #d6d6d6;border-left:6px dotted #222;"></div>
<div class="b" style="left:935.00px;top:865.00px;width:3.00px;height:102.00px;background:#d6d6d6;"></div>
<div class="b" style="left:1259.00px;top:865.00px;width:3.00px;height:102.00px;background:#d6d6d6;"></div>
<div class="b" style="left:1583.00px;top:865.00px;width:3.00px;height:102.00px;background:#d6d6d6;"></div>
<div class="b" style="left:2231.00px;top:865.00px;width:3.00px;height:102.00px;background:#d6d6d6;"></div>
<div class="b" style="left:1894.00px;top:865.00px;width:14.00px;height:102.00px;background:linear-gradient(to right, rgba(64,154,167,0) 0%, rgba(64,154,167,0.06) 40%, rgba(64,154,167,0.28) 100%);"></div>
<div class="b" style="left:1908.00px;top:863.50px;width:2.00px;height:105.00px;background:#409aa7;"></div>
<div class="b" style="left:626.30px;top:871.00px;width:307.70px;height:92.00px;border:3px solid #efefef;border-radius:13px;background:#fafafa;"></div>
<div class="t" style="left:636.69px;top:889.52px;font-size:23.6px;line-height:23.6px;color:#222;font-weight:700;letter-spacing:0.744px;transform:scaleX(1.1053);transform-origin:0 0;-webkit-text-stroke:0.6px #222;">10:00 - 16:00</div>
<div class="t" style="left:635.72px;top:930.19px;font-size:23.4px;line-height:23.4px;color:#222;font-weight:400;letter-spacing:0.356px;transform:scaleX(1.0344);transform-origin:0 0;-webkit-text-stroke:0.5px #222;">Küche</div>
<div class="b" style="left:1268.30px;top:871.00px;width:307.70px;height:92.00px;border:3px solid #efefef;border-radius:13px;background:#fafafa;"></div>
<div class="t" style="left:1278.69px;top:889.52px;font-size:23.6px;line-height:23.6px;color:#222;font-weight:700;letter-spacing:0.744px;transform:scaleX(1.1053);transform-origin:0 0;-webkit-text-stroke:0.6px #222;">10:30 - 16:30</div>
<div class="t" style="left:1277.72px;top:930.19px;font-size:23.4px;line-height:23.4px;color:#222;font-weight:400;letter-spacing:0.356px;transform:scaleX(1.0344);transform-origin:0 0;-webkit-text-stroke:0.5px #222;">Küche</div>
<div class="b" style="left:1916.30px;top:871.00px;width:307.70px;height:92.00px;border:3px solid #efefef;border-radius:13px;background:#fafafa;"></div>
<div class="t" style="left:1926.69px;top:889.52px;font-size:23.6px;line-height:23.6px;color:#222;font-weight:700;letter-spacing:0.779px;transform:scaleX(1.1119);transform-origin:0 0;-webkit-text-stroke:0.6px #222;">11:00 - 16:00</div>
<div class="t" style="left:1925.71px;top:930.19px;font-size:23.4px;line-height:23.4px;color:#222;font-weight:400;letter-spacing:0.388px;transform:scaleX(1.0442);transform-origin:0 0;-webkit-text-stroke:0.5px #222;">Counter</div>
<div class="b" style="left:612.40px;top:978.00px;width:1.60px;height:108.00px;background:#d6d6d6;"></div>
<div class="b" style="left:614.00px;top:978.00px;width:1830.00px;height:108.00px;border-top:3px solid #d6d6d6;border-bottom:3px solid #d6d6d6;border-left:6px dotted #222;"></div>
<div class="b" style="left:935.00px;top:981.00px;width:3.00px;height:102.00px;background:#d6d6d6;"></div>
<div class="b" style="left:1259.00px;top:981.00px;width:3.00px;height:102.00px;background:#d6d6d6;"></div>
<div class="b" style="left:1583.00px;top:981.00px;width:3.00px;height:102.00px;background:#d6d6d6;"></div>
<div class="b" style="left:2231.00px;top:981.00px;width:3.00px;height:102.00px;background:#d6d6d6;"></div>
<div class="b" style="left:1894.00px;top:981.00px;width:14.00px;height:102.00px;background:linear-gradient(to right, rgba(64,154,167,0) 0%, rgba(64,154,167,0.06) 40%, rgba(64,154,167,0.28) 100%);"></div>
<div class="b" style="left:1908.00px;top:979.50px;width:2.00px;height:105.00px;background:#409aa7;"></div>
<div class="b" style="left:628.00px;top:987.00px;width:304.00px;height:7.80px;background:#c3e4fb;border-radius:2.5px 2.5px 0 0;"></div>
<div class="b" style="left:628.00px;top:994.80px;width:304.00px;height:84.00px;background:#fafafa;border-radius:0 0 2.5px 2.5px;"></div>
<svg class="b" style="left:704.10px;top:1018.70px;" width="28.00" height="28.00" viewBox="704.10 1018.70 28 28"><g fill="none" stroke="#222" stroke-width="2" stroke-linejoin="round"><path d="M711.90 1025.70 V1021.70 H722.30 V1025.70"/><path d="M709.50 1025.70 H724.70 Q727.10 1029.70 727.10 1033.70 V1041.30 H707.10 V1033.70 Q707.10 1029.70 709.50 1025.70 Z"/><path d="M713.30 1034.00 H720.90 M717.10 1030.20 V1037.80" stroke-width="1.8"/></g></svg>
<div class="t" style="left:737.97px;top:1024.97px;font-size:23.9px;line-height:23.9px;color:#222;font-weight:700;letter-spacing:0.279px;transform:scaleX(1.0317);transform-origin:0 0;-webkit-text-stroke:0.6px #222;">Krankheit</div>
<div class="b" style="left:946.00px;top:987.00px;width:304.00px;height:7.80px;background:#c3e4fb;border-radius:2.5px 2.5px 0 0;"></div>
<div class="b" style="left:946.00px;top:994.80px;width:304.00px;height:84.00px;background:#fafafa;border-radius:0 0 2.5px 2.5px;"></div>
<svg class="b" style="left:1022.10px;top:1018.70px;" width="28.00" height="28.00" viewBox="1022.10 1018.70 28 28"><g fill="none" stroke="#222" stroke-width="2" stroke-linejoin="round"><path d="M1029.90 1025.70 V1021.70 H1040.30 V1025.70"/><path d="M1027.50 1025.70 H1042.70 Q1045.10 1029.70 1045.10 1033.70 V1041.30 H1025.10 V1033.70 Q1025.10 1029.70 1027.50 1025.70 Z"/><path d="M1031.30 1034.00 H1038.90 M1035.10 1030.20 V1037.80" stroke-width="1.8"/></g></svg>
<div class="t" style="left:1055.97px;top:1024.97px;font-size:23.9px;line-height:23.9px;color:#222;font-weight:700;letter-spacing:0.279px;transform:scaleX(1.0317);transform-origin:0 0;-webkit-text-stroke:0.6px #222;">Krankheit</div>
<div class="b" style="left:1270.00px;top:987.00px;width:304.00px;height:7.80px;background:#c3e4fb;border-radius:2.5px 2.5px 0 0;"></div>
<div class="b" style="left:1270.00px;top:994.80px;width:304.00px;height:84.00px;background:#fafafa;border-radius:0 0 2.5px 2.5px;"></div>
<svg class="b" style="left:1346.10px;top:1018.70px;" width="28.00" height="28.00" viewBox="1346.10 1018.70 28 28"><g fill="none" stroke="#222" stroke-width="2" stroke-linejoin="round"><path d="M1353.90 1025.70 V1021.70 H1364.30 V1025.70"/><path d="M1351.50 1025.70 H1366.70 Q1369.10 1029.70 1369.10 1033.70 V1041.30 H1349.10 V1033.70 Q1349.10 1029.70 1351.50 1025.70 Z"/><path d="M1355.30 1034.00 H1362.90 M1359.10 1030.20 V1037.80" stroke-width="1.8"/></g></svg>
<div class="t" style="left:1379.97px;top:1024.97px;font-size:23.9px;line-height:23.9px;color:#222;font-weight:700;letter-spacing:0.279px;transform:scaleX(1.0317);transform-origin:0 0;-webkit-text-stroke:0.6px #222;">Krankheit</div>
<div class="b" style="left:1594.00px;top:987.00px;width:304.00px;height:7.80px;background:#c3e4fb;border-radius:2.5px 2.5px 0 0;"></div>
<div class="b" style="left:1594.00px;top:994.80px;width:304.00px;height:84.00px;background:#fafafa;border-radius:0 0 2.5px 2.5px;"></div>
<svg class="b" style="left:1670.10px;top:1018.70px;" width="28.00" height="28.00" viewBox="1670.10 1018.70 28 28"><g fill="none" stroke="#222" stroke-width="2" stroke-linejoin="round"><path d="M1677.90 1025.70 V1021.70 H1688.30 V1025.70"/><path d="M1675.50 1025.70 H1690.70 Q1693.10 1029.70 1693.10 1033.70 V1041.30 H1673.10 V1033.70 Q1673.10 1029.70 1675.50 1025.70 Z"/><path d="M1679.30 1034.00 H1686.90 M1683.10 1030.20 V1037.80" stroke-width="1.8"/></g></svg>
<div class="t" style="left:1703.97px;top:1024.97px;font-size:23.9px;line-height:23.9px;color:#222;font-weight:700;letter-spacing:0.279px;transform:scaleX(1.0317);transform-origin:0 0;-webkit-text-stroke:0.6px #222;">Krankheit</div>
<div class="b" style="left:1918.00px;top:987.00px;width:304.00px;height:7.80px;background:#c3e4fb;border-radius:2.5px 2.5px 0 0;"></div>
<div class="b" style="left:1918.00px;top:994.80px;width:304.00px;height:84.00px;background:#fafafa;border-radius:0 0 2.5px 2.5px;"></div>
<svg class="b" style="left:1994.10px;top:1018.70px;" width="28.00" height="28.00" viewBox="1994.10 1018.70 28 28"><g fill="none" stroke="#222" stroke-width="2" stroke-linejoin="round"><path d="M2001.90 1025.70 V1021.70 H2012.30 V1025.70"/><path d="M1999.50 1025.70 H2014.70 Q2017.10 1029.70 2017.10 1033.70 V1041.30 H1997.10 V1033.70 Q1997.10 1029.70 1999.50 1025.70 Z"/><path d="M2003.30 1034.00 H2010.90 M2007.10 1030.20 V1037.80" stroke-width="1.8"/></g></svg>
<div class="t" style="left:2027.97px;top:1024.97px;font-size:23.9px;line-height:23.9px;color:#222;font-weight:700;letter-spacing:0.279px;transform:scaleX(1.0317);transform-origin:0 0;-webkit-text-stroke:0.6px #222;">Krankheit</div>
<div class="b" style="left:2242.00px;top:987.00px;width:304.00px;height:7.80px;background:#c3e4fb;border-radius:2.5px 2.5px 0 0;"></div>
<div class="b" style="left:2242.00px;top:994.80px;width:304.00px;height:84.00px;background:#fafafa;border-radius:0 0 2.5px 2.5px;"></div>
<svg class="b" style="left:2318.10px;top:1018.70px;" width="28.00" height="28.00" viewBox="2318.10 1018.70 28 28"><g fill="none" stroke="#222" stroke-width="2" stroke-linejoin="round"><path d="M2325.90 1025.70 V1021.70 H2336.30 V1025.70"/><path d="M2323.50 1025.70 H2338.70 Q2341.10 1029.70 2341.10 1033.70 V1041.30 H2321.10 V1033.70 Q2321.10 1029.70 2323.50 1025.70 Z"/><path d="M2327.30 1034.00 H2334.90 M2331.10 1030.20 V1037.80" stroke-width="1.8"/></g></svg>
<div class="t" style="left:2351.97px;top:1024.97px;font-size:23.9px;line-height:23.9px;color:#222;font-weight:700;letter-spacing:0.279px;transform:scaleX(1.0317);transform-origin:0 0;-webkit-text-stroke:0.6px #222;">Krankheit</div>
<div class="b" style="left:612.40px;top:1095.00px;width:1.60px;height:108.00px;background:#d6d6d6;"></div>
<div class="b" style="left:614.00px;top:1095.00px;width:1830.00px;height:108.00px;border-top:3px solid #d6d6d6;border-bottom:3px solid #d6d6d6;border-left:6px dotted #222;"></div>
<div class="b" style="left:935.00px;top:1098.00px;width:3.00px;height:102.00px;background:#d6d6d6;"></div>
<div class="b" style="left:1259.00px;top:1098.00px;width:3.00px;height:102.00px;background:#d6d6d6;"></div>
<div class="b" style="left:1583.00px;top:1098.00px;width:3.00px;height:102.00px;background:#d6d6d6;"></div>
<div class="b" style="left:2231.00px;top:1098.00px;width:3.00px;height:102.00px;background:#d6d6d6;"></div>
<div class="b" style="left:1894.00px;top:1098.00px;width:14.00px;height:102.00px;background:linear-gradient(to right, rgba(64,154,167,0) 0%, rgba(64,154,167,0.06) 40%, rgba(64,154,167,0.28) 100%);"></div>
<div class="b" style="left:1908.00px;top:1096.50px;width:2.00px;height:105.00px;background:#409aa7;"></div>
<div class="b" style="left:626.30px;top:1104.00px;width:307.70px;height:92.00px;border:3px solid #efefef;border-radius:13px;background:#fafafa;"></div>
<div class="t" style="left:636.40px;top:1122.52px;font-size:23.6px;line-height:23.6px;color:#222;font-weight:700;letter-spacing:0.755px;transform:scaleX(1.1063);transform-origin:0 0;-webkit-text-stroke:0.6px #222;">08:00 - 15:00</div>
<div class="t" style="left:635.75px;top:1163.19px;font-size:23.4px;line-height:23.4px;color:#222;font-weight:400;letter-spacing:0.018px;transform:scaleX(1.0015);transform-origin:0 0;-webkit-text-stroke:0.5px #222;">Bar</div>
<div class="b" style="left:944.30px;top:1104.00px;width:307.70px;height:92.00px;border:3px solid #efefef;border-radius:13px;background:#fafafa;"></div>
<div class="t" style="left:954.69px;top:1122.52px;font-size:23.6px;line-height:23.6px;color:#222;font-weight:700;letter-spacing:0.779px;transform:scaleX(1.1119);transform-origin:0 0;-webkit-text-stroke:0.6px #222;">11:00 - 16:00</div>
<div class="t" style="left:953.71px;top:1163.19px;font-size:23.4px;line-height:23.4px;color:#222;font-weight:400;letter-spacing:0.355px;transform:scaleX(1.0382);transform-origin:0 0;-webkit-text-stroke:0.5px #222;">Spüle</div>
<div class="b" style="left:1268.30px;top:1104.00px;width:307.70px;height:92.00px;border:3px solid #efefef;border-radius:13px;background:#fafafa;"></div>
<div class="t" style="left:1278.69px;top:1122.52px;font-size:23.6px;line-height:23.6px;color:#222;font-weight:700;letter-spacing:0.744px;transform:scaleX(1.1053);transform-origin:0 0;-webkit-text-stroke:0.6px #222;">19:00 - 00:00</div>
<div class="t" style="left:1277.72px;top:1163.19px;font-size:23.4px;line-height:23.4px;color:#222;font-weight:400;letter-spacing:0.356px;transform:scaleX(1.0344);transform-origin:0 0;-webkit-text-stroke:0.5px #222;">Küche</div>
<div class="b" style="left:1592.30px;top:1104.00px;width:307.70px;height:92.00px;border:3px solid #efefef;border-radius:13px;background:#fafafa;"></div>
<div class="t" style="left:1602.69px;top:1122.52px;font-size:23.6px;line-height:23.6px;color:#222;font-weight:700;letter-spacing:0.744px;transform:scaleX(1.1053);transform-origin:0 0;-webkit-text-stroke:0.6px #222;">19:00 - 00:00</div>
<div class="t" style="left:1601.72px;top:1163.19px;font-size:23.4px;line-height:23.4px;color:#222;font-weight:400;letter-spacing:0.356px;transform:scaleX(1.0344);transform-origin:0 0;-webkit-text-stroke:0.5px #222;">Küche</div>
<div class="b" style="left:2240.30px;top:1104.00px;width:307.70px;height:92.00px;border:3px solid #efefef;border-radius:13px;background:#fafafa;"></div>
<div class="t" style="left:2250.69px;top:1122.52px;font-size:23.6px;line-height:23.6px;color:#222;font-weight:700;letter-spacing:0.744px;transform:scaleX(1.1053);transform-origin:0 0;-webkit-text-stroke:0.6px #222;">19:00 - 00:00</div>
<div class="t" style="left:2249.72px;top:1163.19px;font-size:23.4px;line-height:23.4px;color:#222;font-weight:400;letter-spacing:0.356px;transform:scaleX(1.0344);transform-origin:0 0;-webkit-text-stroke:0.5px #222;">Küche</div>
<div class="b" style="left:612.40px;top:1211.00px;width:1.60px;height:108.00px;background:#d6d6d6;"></div>
<div class="b" style="left:614.00px;top:1211.00px;width:1830.00px;height:108.00px;border-top:3px solid #d6d6d6;border-bottom:3px solid #d6d6d6;border-left:6px dotted #222;"></div>
<div class="b" style="left:935.00px;top:1214.00px;width:3.00px;height:102.00px;background:#d6d6d6;"></div>
<div class="b" style="left:1259.00px;top:1214.00px;width:3.00px;height:102.00px;background:#d6d6d6;"></div>
<div class="b" style="left:1583.00px;top:1214.00px;width:3.00px;height:102.00px;background:#d6d6d6;"></div>
<div class="b" style="left:2231.00px;top:1214.00px;width:3.00px;height:102.00px;background:#d6d6d6;"></div>
<div class="b" style="left:1894.00px;top:1214.00px;width:14.00px;height:102.00px;background:linear-gradient(to right, rgba(64,154,167,0) 0%, rgba(64,154,167,0.06) 40%, rgba(64,154,167,0.28) 100%);"></div>
<div class="b" style="left:1908.00px;top:1212.50px;width:2.00px;height:105.00px;background:#409aa7;"></div>
<div class="b" style="left:626.30px;top:1220.00px;width:307.70px;height:92.00px;border:3px solid #efefef;border-radius:13px;background:#fafafa;"></div>
<div class="t" style="left:636.69px;top:1238.52px;font-size:23.6px;line-height:23.6px;color:#222;font-weight:700;letter-spacing:0.744px;transform:scaleX(1.1053);transform-origin:0 0;-webkit-text-stroke:0.6px #222;">16:00 - 23:00</div>
<div class="t" style="left:635.72px;top:1279.19px;font-size:23.4px;line-height:23.4px;color:#222;font-weight:400;letter-spacing:0.356px;transform:scaleX(1.0344);transform-origin:0 0;-webkit-text-stroke:0.5px #222;">Küche</div>
<div class="b" style="left:1268.30px;top:1220.00px;width:307.70px;height:92.00px;border:3px solid #efefef;border-radius:13px;background:#fafafa;"></div>
<div class="t" style="left:1278.69px;top:1238.52px;font-size:23.6px;line-height:23.6px;color:#222;font-weight:700;letter-spacing:0.744px;transform:scaleX(1.1053);transform-origin:0 0;-webkit-text-stroke:0.6px #222;">10:00 - 15:00</div>
<div class="t" style="left:1277.75px;top:1279.19px;font-size:23.4px;line-height:23.4px;color:#222;font-weight:400;letter-spacing:0.018px;transform:scaleX(1.0015);transform-origin:0 0;-webkit-text-stroke:0.5px #222;">Bar</div>
<div class="b" style="left:1916.30px;top:1220.00px;width:307.70px;height:92.00px;border:3px solid #efefef;border-radius:13px;background:#fafafa;"></div>
<div class="t" style="left:1926.69px;top:1238.52px;font-size:23.6px;line-height:23.6px;color:#222;font-weight:700;letter-spacing:0.744px;transform:scaleX(1.1053);transform-origin:0 0;-webkit-text-stroke:0.6px #222;">10:00 - 16:00</div>
<div class="t" style="left:1925.71px;top:1279.19px;font-size:23.4px;line-height:23.4px;color:#222;font-weight:400;letter-spacing:0.377px;transform:scaleX(1.0428);transform-origin:0 0;-webkit-text-stroke:0.5px #222;">Hostess</div>
<div class="b" style="left:612.40px;top:1328.00px;width:1.60px;height:108.00px;background:#d6d6d6;"></div>
<div class="b" style="left:614.00px;top:1328.00px;width:1830.00px;height:108.00px;border-top:3px solid #d6d6d6;border-bottom:3px solid #d6d6d6;border-left:6px dotted #222;"></div>
<div class="b" style="left:935.00px;top:1331.00px;width:3.00px;height:102.00px;background:#d6d6d6;"></div>
<div class="b" style="left:1259.00px;top:1331.00px;width:3.00px;height:102.00px;background:#d6d6d6;"></div>
<div class="b" style="left:1583.00px;top:1331.00px;width:3.00px;height:102.00px;background:#d6d6d6;"></div>
<div class="b" style="left:2231.00px;top:1331.00px;width:3.00px;height:102.00px;background:#d6d6d6;"></div>
<div class="b" style="left:1894.00px;top:1331.00px;width:14.00px;height:102.00px;background:linear-gradient(to right, rgba(64,154,167,0) 0%, rgba(64,154,167,0.06) 40%, rgba(64,154,167,0.28) 100%);"></div>
<div class="b" style="left:1908.00px;top:1329.50px;width:2.00px;height:105.00px;background:#409aa7;"></div>
<div class="b" style="left:626.30px;top:1337.00px;width:307.70px;height:92.00px;border:3px solid #efefef;border-radius:13px;background:#fafafa;"></div>
<div class="t" style="left:636.69px;top:1355.52px;font-size:23.6px;line-height:23.6px;color:#e33b3b;font-weight:700;letter-spacing:0.744px;transform:scaleX(1.1053);transform-origin:0 0;-webkit-text-stroke:0.6px #e33b3b;">16:30 - 23:00</div>
<div class="t" style="left:635.72px;top:1396.19px;font-size:23.4px;line-height:23.4px;color:#222;font-weight:400;letter-spacing:0.356px;transform:scaleX(1.0344);transform-origin:0 0;-webkit-text-stroke:0.5px #222;">Küche</div>
<div class="b" style="left:944.30px;top:1337.00px;width:307.70px;height:92.00px;border:3px solid #efefef;border-radius:13px;background:#fafafa;"></div>
<div class="t" style="left:954.40px;top:1355.52px;font-size:23.6px;line-height:23.6px;color:#e33b3b;font-weight:700;letter-spacing:0.755px;transform:scaleX(1.1063);transform-origin:0 0;-webkit-text-stroke:0.6px #e33b3b;">08:00 - 14:00</div>
<div class="t" style="left:953.72px;top:1396.19px;font-size:23.4px;line-height:23.4px;color:#222;font-weight:400;letter-spacing:0.356px;transform:scaleX(1.0344);transform-origin:0 0;-webkit-text-stroke:0.5px #222;">Küche</div>
<div class="b" style="left:1592.30px;top:1337.00px;width:307.70px;height:92.00px;border:3px solid #efefef;border-radius:13px;background:#fafafa;"></div>
<div class="t" style="left:1602.69px;top:1355.52px;font-size:23.6px;line-height:23.6px;color:#222;font-weight:700;letter-spacing:0.779px;transform:scaleX(1.1119);transform-origin:0 0;-webkit-text-stroke:0.6px #222;">11:00 - 15:00</div>
<div class="t" style="left:1601.71px;top:1396.19px;font-size:23.4px;line-height:23.4px;color:#222;font-weight:400;letter-spacing:0.388px;transform:scaleX(1.0442);transform-origin:0 0;-webkit-text-stroke:0.5px #222;">Counter</div>
<div class="b" style="left:1916.30px;top:1337.00px;width:307.70px;height:92.00px;border:3px solid #efefef;border-radius:13px;background:#fafafa;"></div>
<div class="t" style="left:1926.69px;top:1355.52px;font-size:23.6px;line-height:23.6px;color:#222;font-weight:700;letter-spacing:0.744px;transform:scaleX(1.1053);transform-origin:0 0;-webkit-text-stroke:0.6px #222;">10:00 - 18:00</div>
<div class="t" style="left:1925.70px;top:1396.19px;font-size:23.4px;line-height:23.4px;color:#222;font-weight:400;letter-spacing:0.401px;transform:scaleX(1.0499);transform-origin:0 0;-webkit-text-stroke:0.5px #222;">Service</div>
<div class="b" style="left:12.00px;top:1418.00px;width:2426.00px;height:22.00px;background:linear-gradient(to bottom, rgba(0,0,0,0) 0%, rgba(0,0,0,0.035) 100%);"></div>
</div>
</body></html>
